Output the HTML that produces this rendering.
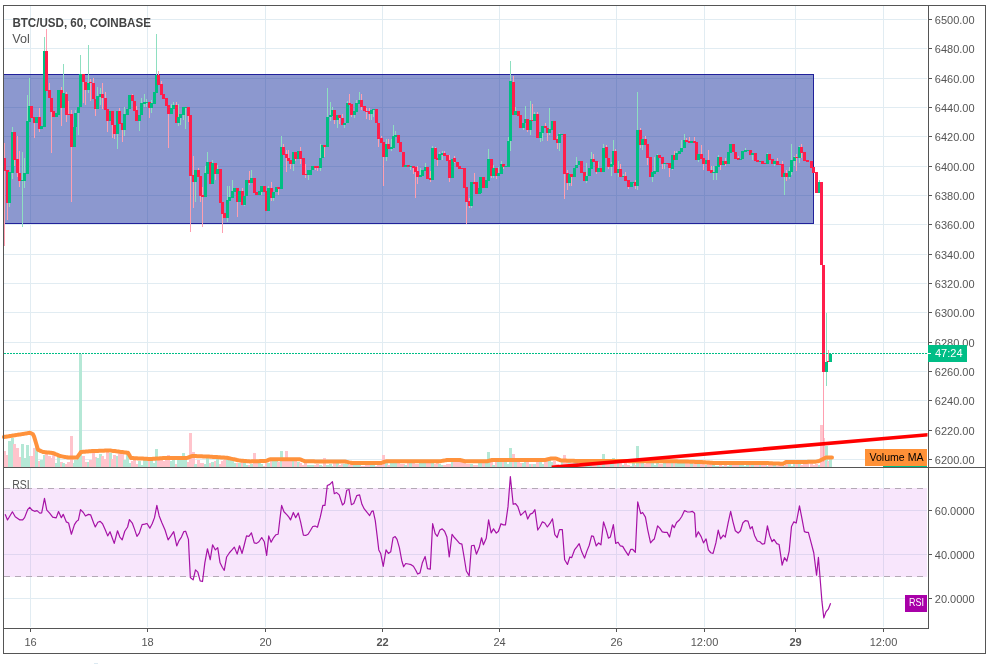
<!DOCTYPE html>
<html><head><meta charset="utf-8"><title>BTC/USD chart</title>
<style>html,body{margin:0;padding:0;background:#fff}body{width:991px;height:664px;overflow:hidden}</style></head>
<body>
<svg width="991" height="664" viewBox="0 0 991 664" shape-rendering="crispEdges" style="display:block">
<rect width="991" height="664" fill="#fff"/>
<rect x="4" y="488" width="923" height="89" fill="#f8e6fc"/>
<path d="M4 19.5H927M4 48.5H927M4 78.5H927M4 107.5H927M4 136.5H927M4 166.5H927M4 195.5H927M4 224.5H927M4 254.5H927M4 283.5H927M4 312.5H927M4 342.5H927M4 371.5H927M4 400.5H927M4 430.5H927M4 459.5H927M4 510.5H927M4 554.5H927M4 598.5H927M30.5 6V627M147.5 6V627M265.5 6V627M382.5 6V627M499.5 6V627M616.5 6V627M704.5 6V627M795.5 6V627M883.5 6V627" stroke="#e1ecf2" stroke-width="1" fill="none"/>
<path d="M4 510.5H927M4 554.5H927M30.5 489V576M147.5 489V576M265.5 489V576M382.5 489V576M499.5 489V576M616.5 489V576M704.5 489V576M795.5 489V576M883.5 489V576" stroke="#e0d6f0" stroke-width="1" fill="none"/>
<path d="M4 488.5H927M4 576.5H927" stroke="#b4a9b6" stroke-width="1" stroke-dasharray="6 5" fill="none"/>
<rect x="4" y="74" width="810" height="150" fill="rgba(10,36,152,0.47)"/>
<path d="M4 74.5H813.5V223.5H4" stroke="#21219a" stroke-width="1" fill="none"/>
<rect x="3" y="450.7" width="3" height="16.3" fill="#ffc4cc"/>
<rect x="6" y="455.2" width="3" height="11.8" fill="#ffc4cc"/>
<rect x="8" y="441.2" width="3" height="25.8" fill="#b5e8d6"/>
<rect x="11" y="438.0" width="3" height="29.0" fill="#b5e8d6"/>
<rect x="13" y="443.8" width="3" height="23.2" fill="#ffc4cc"/>
<rect x="16" y="448.4" width="3" height="18.6" fill="#ffc4cc"/>
<rect x="18" y="457.2" width="3" height="9.8" fill="#ffc4cc"/>
<rect x="21" y="443.7" width="3" height="23.3" fill="#b5e8d6"/>
<rect x="23" y="457.5" width="3" height="9.5" fill="#b5e8d6"/>
<rect x="26" y="445.4" width="3" height="21.6" fill="#b5e8d6"/>
<rect x="28" y="456.3" width="3" height="10.7" fill="#b5e8d6"/>
<rect x="30" y="455.9" width="3" height="11.1" fill="#ffc4cc"/>
<rect x="33" y="447.9" width="3" height="19.1" fill="#ffc4cc"/>
<rect x="35" y="445.2" width="3" height="21.8" fill="#b5e8d6"/>
<rect x="38" y="461.0" width="3" height="6.0" fill="#ffc4cc"/>
<rect x="40" y="460.0" width="3" height="7.0" fill="#b5e8d6"/>
<rect x="43" y="454.9" width="3" height="12.1" fill="#b5e8d6"/>
<rect x="45" y="450.9" width="3" height="16.1" fill="#ffc4cc"/>
<rect x="48" y="456.0" width="3" height="11.0" fill="#ffc4cc"/>
<rect x="50" y="458.4" width="3" height="8.6" fill="#ffc4cc"/>
<rect x="52" y="451.5" width="3" height="15.5" fill="#ffc4cc"/>
<rect x="55" y="463.4" width="3" height="3.6" fill="#b5e8d6"/>
<rect x="57" y="455.1" width="3" height="11.9" fill="#b5e8d6"/>
<rect x="60" y="461.5" width="3" height="5.5" fill="#ffc4cc"/>
<rect x="62" y="463.1" width="3" height="3.9" fill="#b5e8d6"/>
<rect x="65" y="463.5" width="3" height="3.5" fill="#ffc4cc"/>
<rect x="67" y="462.0" width="3" height="5.0" fill="#ffc4cc"/>
<rect x="70" y="436.0" width="3" height="31.0" fill="#ffc4cc"/>
<rect x="73" y="463.1" width="3" height="3.9" fill="#b5e8d6"/>
<rect x="74" y="459.7" width="3" height="7.3" fill="#b5e8d6"/>
<rect x="77" y="457.7" width="3" height="9.3" fill="#b5e8d6"/>
<rect x="79" y="354.0" width="3" height="113.0" fill="#b5e8d6"/>
<rect x="82" y="455.7" width="3" height="11.3" fill="#ffc4cc"/>
<rect x="84" y="462.3" width="3" height="4.7" fill="#ffc4cc"/>
<rect x="87" y="462.3" width="3" height="4.7" fill="#b5e8d6"/>
<rect x="89" y="460.1" width="3" height="6.9" fill="#ffc4cc"/>
<rect x="92" y="453.2" width="3" height="13.8" fill="#ffc4cc"/>
<rect x="94" y="456.8" width="3" height="10.2" fill="#ffc4cc"/>
<rect x="96" y="458.4" width="3" height="8.6" fill="#b5e8d6"/>
<rect x="99" y="454.4" width="3" height="12.6" fill="#b5e8d6"/>
<rect x="101" y="456.3" width="3" height="10.7" fill="#ffc4cc"/>
<rect x="104" y="458.5" width="3" height="8.5" fill="#ffc4cc"/>
<rect x="106" y="451.1" width="3" height="15.9" fill="#ffc4cc"/>
<rect x="109" y="452.5" width="3" height="14.5" fill="#b5e8d6"/>
<rect x="111" y="459.4" width="3" height="7.6" fill="#ffc4cc"/>
<rect x="113" y="454.8" width="3" height="12.2" fill="#ffc4cc"/>
<rect x="116" y="455.8" width="3" height="11.2" fill="#b5e8d6"/>
<rect x="118" y="451.2" width="3" height="15.8" fill="#ffc4cc"/>
<rect x="121" y="453.4" width="3" height="13.6" fill="#ffc4cc"/>
<rect x="123" y="459.6" width="3" height="7.4" fill="#b5e8d6"/>
<rect x="126" y="450.8" width="3" height="16.2" fill="#b5e8d6"/>
<rect x="128" y="463.0" width="3" height="4.0" fill="#b5e8d6"/>
<rect x="131" y="461.4" width="3" height="5.6" fill="#ffc4cc"/>
<rect x="133" y="458.8" width="3" height="8.2" fill="#ffc4cc"/>
<rect x="135" y="463.6" width="3" height="3.4" fill="#ffc4cc"/>
<rect x="138" y="461.1" width="3" height="5.9" fill="#b5e8d6"/>
<rect x="140" y="464.6" width="3" height="2.4" fill="#b5e8d6"/>
<rect x="143" y="459.9" width="3" height="7.1" fill="#b5e8d6"/>
<rect x="145" y="459.3" width="3" height="7.7" fill="#b5e8d6"/>
<rect x="148" y="460.8" width="3" height="6.2" fill="#ffc4cc"/>
<rect x="150" y="458.6" width="3" height="8.4" fill="#b5e8d6"/>
<rect x="153" y="462.6" width="3" height="4.4" fill="#b5e8d6"/>
<rect x="155" y="449.0" width="3" height="18.0" fill="#b5e8d6"/>
<rect x="157" y="460.3" width="3" height="6.7" fill="#ffc4cc"/>
<rect x="160" y="460.2" width="3" height="6.8" fill="#ffc4cc"/>
<rect x="162" y="461.1" width="3" height="5.9" fill="#ffc4cc"/>
<rect x="165" y="457.9" width="3" height="9.1" fill="#ffc4cc"/>
<rect x="167" y="455.0" width="3" height="12.0" fill="#ffc4cc"/>
<rect x="170" y="460.9" width="3" height="6.1" fill="#b5e8d6"/>
<rect x="172" y="459.4" width="3" height="7.6" fill="#b5e8d6"/>
<rect x="175" y="464.3" width="3" height="2.7" fill="#ffc4cc"/>
<rect x="177" y="459.1" width="3" height="7.9" fill="#b5e8d6"/>
<rect x="179" y="459.5" width="3" height="7.5" fill="#b5e8d6"/>
<rect x="182" y="453.0" width="3" height="14.0" fill="#b5e8d6"/>
<rect x="184" y="458.1" width="3" height="8.9" fill="#b5e8d6"/>
<rect x="187" y="462.2" width="3" height="4.8" fill="#ffc4cc"/>
<rect x="189" y="433.0" width="3" height="34.0" fill="#ffc4cc"/>
<rect x="192" y="451.7" width="3" height="15.3" fill="#ffc4cc"/>
<rect x="194" y="464.1" width="3" height="2.9" fill="#b5e8d6"/>
<rect x="197" y="459.8" width="3" height="7.2" fill="#ffc4cc"/>
<rect x="199" y="462.7" width="3" height="4.3" fill="#ffc4cc"/>
<rect x="201" y="463.2" width="3" height="3.8" fill="#ffc4cc"/>
<rect x="204" y="463.8" width="3" height="3.2" fill="#b5e8d6"/>
<rect x="206" y="457.2" width="3" height="9.8" fill="#b5e8d6"/>
<rect x="209" y="463.2" width="3" height="3.8" fill="#ffc4cc"/>
<rect x="211" y="462.2" width="3" height="4.8" fill="#b5e8d6"/>
<rect x="214" y="461.0" width="3" height="6.0" fill="#ffc4cc"/>
<rect x="216" y="456.9" width="3" height="10.1" fill="#b5e8d6"/>
<rect x="219" y="463.9" width="3" height="3.1" fill="#ffc4cc"/>
<rect x="221" y="460.8" width="3" height="6.2" fill="#ffc4cc"/>
<rect x="223" y="460.1" width="3" height="6.9" fill="#ffc4cc"/>
<rect x="226" y="457.5" width="3" height="9.5" fill="#b5e8d6"/>
<rect x="228" y="458.5" width="3" height="8.5" fill="#b5e8d6"/>
<rect x="231" y="458.7" width="3" height="8.3" fill="#b5e8d6"/>
<rect x="233" y="463.2" width="3" height="3.8" fill="#b5e8d6"/>
<rect x="236" y="462.6" width="3" height="4.4" fill="#ffc4cc"/>
<rect x="238" y="463.3" width="3" height="3.7" fill="#b5e8d6"/>
<rect x="241" y="460.5" width="3" height="6.5" fill="#ffc4cc"/>
<rect x="243" y="460.3" width="3" height="6.7" fill="#b5e8d6"/>
<rect x="245" y="464.7" width="3" height="2.3" fill="#b5e8d6"/>
<rect x="248" y="464.7" width="3" height="2.3" fill="#ffc4cc"/>
<rect x="250" y="464.4" width="3" height="2.6" fill="#b5e8d6"/>
<rect x="253" y="453.0" width="3" height="14.0" fill="#ffc4cc"/>
<rect x="255" y="463.0" width="3" height="4.0" fill="#ffc4cc"/>
<rect x="258" y="462.5" width="3" height="4.5" fill="#b5e8d6"/>
<rect x="260" y="464.1" width="3" height="2.9" fill="#b5e8d6"/>
<rect x="263" y="465.5" width="3" height="1.5" fill="#ffc4cc"/>
<rect x="265" y="463.1" width="3" height="3.9" fill="#ffc4cc"/>
<rect x="267" y="462.8" width="3" height="4.2" fill="#b5e8d6"/>
<rect x="270" y="461.2" width="3" height="5.8" fill="#ffc4cc"/>
<rect x="272" y="458.5" width="3" height="8.5" fill="#b5e8d6"/>
<rect x="275" y="460.3" width="3" height="6.7" fill="#b5e8d6"/>
<rect x="277" y="461.5" width="3" height="5.5" fill="#ffc4cc"/>
<rect x="280" y="451.0" width="3" height="16.0" fill="#b5e8d6"/>
<rect x="282" y="460.4" width="3" height="6.6" fill="#ffc4cc"/>
<rect x="285" y="451.0" width="3" height="16.0" fill="#ffc4cc"/>
<rect x="287" y="458.8" width="3" height="8.2" fill="#ffc4cc"/>
<rect x="289" y="459.7" width="3" height="7.3" fill="#ffc4cc"/>
<rect x="292" y="459.0" width="3" height="8.0" fill="#b5e8d6"/>
<rect x="294" y="459.5" width="3" height="7.5" fill="#ffc4cc"/>
<rect x="297" y="462.4" width="3" height="4.6" fill="#b5e8d6"/>
<rect x="299" y="462.5" width="3" height="4.5" fill="#ffc4cc"/>
<rect x="302" y="464.8" width="3" height="2.2" fill="#ffc4cc"/>
<rect x="304" y="462.3" width="3" height="4.7" fill="#ffc4cc"/>
<rect x="307" y="465.3" width="3" height="1.7" fill="#b5e8d6"/>
<rect x="309" y="465.2" width="3" height="1.8" fill="#b5e8d6"/>
<rect x="311" y="464.5" width="3" height="2.5" fill="#b5e8d6"/>
<rect x="314" y="464.8" width="3" height="2.2" fill="#ffc4cc"/>
<rect x="316" y="463.9" width="3" height="3.1" fill="#ffc4cc"/>
<rect x="319" y="465.3" width="3" height="1.7" fill="#b5e8d6"/>
<rect x="321" y="465.6" width="3" height="1.4" fill="#b5e8d6"/>
<rect x="323" y="457.5" width="3" height="9.5" fill="#ffc4cc"/>
<rect x="326" y="465.1" width="3" height="1.9" fill="#b5e8d6"/>
<rect x="329" y="463.8" width="3" height="3.2" fill="#b5e8d6"/>
<rect x="331" y="465.5" width="3" height="1.5" fill="#b5e8d6"/>
<rect x="333" y="461.2" width="3" height="5.8" fill="#ffc4cc"/>
<rect x="336" y="462.6" width="3" height="4.4" fill="#b5e8d6"/>
<rect x="338" y="464.9" width="3" height="2.1" fill="#ffc4cc"/>
<rect x="341" y="464.4" width="3" height="2.6" fill="#ffc4cc"/>
<rect x="343" y="463.9" width="3" height="3.1" fill="#b5e8d6"/>
<rect x="346" y="464.1" width="3" height="2.9" fill="#b5e8d6"/>
<rect x="348" y="465.4" width="3" height="1.6" fill="#ffc4cc"/>
<rect x="350" y="462.9" width="3" height="4.1" fill="#ffc4cc"/>
<rect x="353" y="462.4" width="3" height="4.6" fill="#b5e8d6"/>
<rect x="355" y="464.3" width="3" height="2.7" fill="#b5e8d6"/>
<rect x="358" y="464.3" width="3" height="2.7" fill="#b5e8d6"/>
<rect x="360" y="465.7" width="3" height="1.3" fill="#ffc4cc"/>
<rect x="363" y="465.6" width="3" height="1.4" fill="#ffc4cc"/>
<rect x="365" y="464.8" width="3" height="2.2" fill="#ffc4cc"/>
<rect x="368" y="465.0" width="3" height="2.0" fill="#ffc4cc"/>
<rect x="370" y="463.0" width="3" height="4.0" fill="#b5e8d6"/>
<rect x="372" y="465.4" width="3" height="1.6" fill="#b5e8d6"/>
<rect x="375" y="465.9" width="3" height="1.1" fill="#ffc4cc"/>
<rect x="377" y="462.6" width="3" height="4.4" fill="#ffc4cc"/>
<rect x="380" y="464.0" width="3" height="3.0" fill="#ffc4cc"/>
<rect x="382" y="455.0" width="3" height="12.0" fill="#ffc4cc"/>
<rect x="385" y="462.8" width="3" height="4.2" fill="#b5e8d6"/>
<rect x="387" y="465.4" width="3" height="1.6" fill="#ffc4cc"/>
<rect x="390" y="462.9" width="3" height="4.1" fill="#b5e8d6"/>
<rect x="392" y="460.6" width="3" height="6.4" fill="#b5e8d6"/>
<rect x="394" y="461.1" width="3" height="5.9" fill="#b5e8d6"/>
<rect x="397" y="462.0" width="3" height="5.0" fill="#ffc4cc"/>
<rect x="399" y="464.2" width="3" height="2.8" fill="#ffc4cc"/>
<rect x="402" y="463.7" width="3" height="3.3" fill="#ffc4cc"/>
<rect x="404" y="464.7" width="3" height="2.3" fill="#b5e8d6"/>
<rect x="407" y="461.6" width="3" height="5.4" fill="#ffc4cc"/>
<rect x="409" y="462.8" width="3" height="4.2" fill="#b5e8d6"/>
<rect x="412" y="461.6" width="3" height="5.4" fill="#ffc4cc"/>
<rect x="414" y="463.9" width="3" height="3.1" fill="#ffc4cc"/>
<rect x="416" y="464.4" width="3" height="2.6" fill="#ffc4cc"/>
<rect x="419" y="461.4" width="3" height="5.6" fill="#b5e8d6"/>
<rect x="421" y="460.5" width="3" height="6.5" fill="#b5e8d6"/>
<rect x="424" y="461.2" width="3" height="5.8" fill="#b5e8d6"/>
<rect x="426" y="461.4" width="3" height="5.6" fill="#ffc4cc"/>
<rect x="429" y="461.4" width="3" height="5.6" fill="#ffc4cc"/>
<rect x="431" y="461.8" width="3" height="5.2" fill="#b5e8d6"/>
<rect x="434" y="464.4" width="3" height="2.6" fill="#ffc4cc"/>
<rect x="436" y="462.9" width="3" height="4.1" fill="#ffc4cc"/>
<rect x="438" y="463.8" width="3" height="3.2" fill="#b5e8d6"/>
<rect x="441" y="465.3" width="3" height="1.7" fill="#b5e8d6"/>
<rect x="443" y="465.2" width="3" height="1.8" fill="#ffc4cc"/>
<rect x="446" y="463.5" width="3" height="3.5" fill="#ffc4cc"/>
<rect x="448" y="463.6" width="3" height="3.4" fill="#ffc4cc"/>
<rect x="451" y="460.9" width="3" height="6.1" fill="#b5e8d6"/>
<rect x="453" y="459.2" width="3" height="7.8" fill="#ffc4cc"/>
<rect x="456" y="462.4" width="3" height="4.6" fill="#ffc4cc"/>
<rect x="458" y="459.3" width="3" height="7.7" fill="#ffc4cc"/>
<rect x="461" y="459.6" width="3" height="7.4" fill="#ffc4cc"/>
<rect x="463" y="460.5" width="3" height="6.5" fill="#ffc4cc"/>
<rect x="465" y="463.7" width="3" height="3.3" fill="#ffc4cc"/>
<rect x="468" y="464.4" width="3" height="2.6" fill="#ffc4cc"/>
<rect x="470" y="464.4" width="3" height="2.6" fill="#b5e8d6"/>
<rect x="473" y="464.6" width="3" height="2.4" fill="#ffc4cc"/>
<rect x="475" y="464.5" width="3" height="2.5" fill="#ffc4cc"/>
<rect x="478" y="462.4" width="3" height="4.6" fill="#b5e8d6"/>
<rect x="479" y="461.0" width="3" height="6.0" fill="#b5e8d6"/>
<rect x="482" y="461.3" width="3" height="5.7" fill="#ffc4cc"/>
<rect x="485" y="463.1" width="3" height="3.9" fill="#b5e8d6"/>
<rect x="487" y="452.0" width="3" height="15.0" fill="#b5e8d6"/>
<rect x="490" y="460.4" width="3" height="6.6" fill="#ffc4cc"/>
<rect x="492" y="464.7" width="3" height="2.3" fill="#b5e8d6"/>
<rect x="495" y="461.1" width="3" height="5.9" fill="#ffc4cc"/>
<rect x="497" y="459.5" width="3" height="7.5" fill="#b5e8d6"/>
<rect x="500" y="460.3" width="3" height="6.7" fill="#b5e8d6"/>
<rect x="502" y="460.5" width="3" height="6.5" fill="#ffc4cc"/>
<rect x="504" y="462.2" width="3" height="4.8" fill="#b5e8d6"/>
<rect x="507" y="464.1" width="3" height="2.9" fill="#b5e8d6"/>
<rect x="509" y="448.0" width="3" height="19.0" fill="#b5e8d6"/>
<rect x="512" y="454.0" width="3" height="13.0" fill="#ffc4cc"/>
<rect x="514" y="460.2" width="3" height="6.8" fill="#b5e8d6"/>
<rect x="517" y="459.1" width="3" height="7.9" fill="#ffc4cc"/>
<rect x="519" y="462.8" width="3" height="4.2" fill="#ffc4cc"/>
<rect x="522" y="462.7" width="3" height="4.3" fill="#b5e8d6"/>
<rect x="524" y="459.3" width="3" height="7.7" fill="#b5e8d6"/>
<rect x="526" y="460.7" width="3" height="6.3" fill="#ffc4cc"/>
<rect x="529" y="464.2" width="3" height="2.8" fill="#b5e8d6"/>
<rect x="531" y="464.4" width="3" height="2.6" fill="#ffc4cc"/>
<rect x="533" y="464.3" width="3" height="2.7" fill="#b5e8d6"/>
<rect x="536" y="459.5" width="3" height="7.5" fill="#ffc4cc"/>
<rect x="539" y="460.2" width="3" height="6.8" fill="#b5e8d6"/>
<rect x="541" y="464.3" width="3" height="2.7" fill="#b5e8d6"/>
<rect x="544" y="460.0" width="3" height="7.0" fill="#ffc4cc"/>
<rect x="546" y="458.4" width="3" height="8.6" fill="#ffc4cc"/>
<rect x="548" y="460.1" width="3" height="6.9" fill="#b5e8d6"/>
<rect x="551" y="462.2" width="3" height="4.8" fill="#b5e8d6"/>
<rect x="553" y="460.7" width="3" height="6.3" fill="#ffc4cc"/>
<rect x="556" y="464.1" width="3" height="2.9" fill="#ffc4cc"/>
<rect x="558" y="465.1" width="3" height="1.9" fill="#b5e8d6"/>
<rect x="561" y="459.7" width="3" height="7.3" fill="#b5e8d6"/>
<rect x="563" y="455.0" width="3" height="12.0" fill="#ffc4cc"/>
<rect x="566" y="462.4" width="3" height="4.6" fill="#ffc4cc"/>
<rect x="568" y="460.2" width="3" height="6.8" fill="#b5e8d6"/>
<rect x="570" y="463.0" width="3" height="4.0" fill="#ffc4cc"/>
<rect x="573" y="460.6" width="3" height="6.4" fill="#b5e8d6"/>
<rect x="575" y="460.9" width="3" height="6.1" fill="#b5e8d6"/>
<rect x="578" y="464.3" width="3" height="2.7" fill="#b5e8d6"/>
<rect x="580" y="464.1" width="3" height="2.9" fill="#ffc4cc"/>
<rect x="583" y="463.9" width="3" height="3.1" fill="#ffc4cc"/>
<rect x="585" y="464.2" width="3" height="2.8" fill="#b5e8d6"/>
<rect x="588" y="462.4" width="3" height="4.6" fill="#b5e8d6"/>
<rect x="590" y="464.1" width="3" height="2.9" fill="#b5e8d6"/>
<rect x="592" y="463.3" width="3" height="3.7" fill="#ffc4cc"/>
<rect x="595" y="464.8" width="3" height="2.2" fill="#ffc4cc"/>
<rect x="597" y="460.6" width="3" height="6.4" fill="#b5e8d6"/>
<rect x="600" y="463.6" width="3" height="3.4" fill="#ffc4cc"/>
<rect x="602" y="453.7" width="3" height="13.3" fill="#b5e8d6"/>
<rect x="605" y="462.4" width="3" height="4.6" fill="#ffc4cc"/>
<rect x="607" y="460.7" width="3" height="6.3" fill="#ffc4cc"/>
<rect x="610" y="463.3" width="3" height="3.7" fill="#b5e8d6"/>
<rect x="612" y="457.5" width="3" height="9.5" fill="#b5e8d6"/>
<rect x="614" y="462.9" width="3" height="4.1" fill="#ffc4cc"/>
<rect x="617" y="462.7" width="3" height="4.3" fill="#b5e8d6"/>
<rect x="619" y="462.8" width="3" height="4.2" fill="#ffc4cc"/>
<rect x="622" y="465.4" width="3" height="1.6" fill="#b5e8d6"/>
<rect x="624" y="463.2" width="3" height="3.8" fill="#ffc4cc"/>
<rect x="627" y="464.6" width="3" height="2.4" fill="#ffc4cc"/>
<rect x="630" y="465.5" width="3" height="1.5" fill="#b5e8d6"/>
<rect x="632" y="461.3" width="3" height="5.7" fill="#b5e8d6"/>
<rect x="634" y="464.6" width="3" height="2.4" fill="#ffc4cc"/>
<rect x="636" y="446.0" width="3" height="21.0" fill="#b5e8d6"/>
<rect x="639" y="461.8" width="3" height="5.2" fill="#ffc4cc"/>
<rect x="641" y="462.6" width="3" height="4.4" fill="#b5e8d6"/>
<rect x="644" y="463.9" width="3" height="3.1" fill="#ffc4cc"/>
<rect x="646" y="462.9" width="3" height="4.1" fill="#ffc4cc"/>
<rect x="649" y="462.7" width="3" height="4.3" fill="#ffc4cc"/>
<rect x="651" y="461.5" width="3" height="5.5" fill="#b5e8d6"/>
<rect x="653" y="465.0" width="3" height="2.0" fill="#b5e8d6"/>
<rect x="656" y="462.7" width="3" height="4.3" fill="#b5e8d6"/>
<rect x="658" y="464.3" width="3" height="2.7" fill="#ffc4cc"/>
<rect x="661" y="464.1" width="3" height="2.9" fill="#ffc4cc"/>
<rect x="663" y="461.6" width="3" height="5.4" fill="#b5e8d6"/>
<rect x="666" y="463.0" width="3" height="4.0" fill="#ffc4cc"/>
<rect x="668" y="462.7" width="3" height="4.3" fill="#ffc4cc"/>
<rect x="671" y="461.7" width="3" height="5.3" fill="#b5e8d6"/>
<rect x="673" y="460.9" width="3" height="6.1" fill="#ffc4cc"/>
<rect x="675" y="463.3" width="3" height="3.7" fill="#b5e8d6"/>
<rect x="678" y="462.5" width="3" height="4.5" fill="#b5e8d6"/>
<rect x="680" y="463.1" width="3" height="3.9" fill="#b5e8d6"/>
<rect x="683" y="463.1" width="3" height="3.9" fill="#b5e8d6"/>
<rect x="685" y="462.3" width="3" height="4.7" fill="#ffc4cc"/>
<rect x="688" y="463.5" width="3" height="3.5" fill="#ffc4cc"/>
<rect x="690" y="463.2" width="3" height="3.8" fill="#b5e8d6"/>
<rect x="693" y="463.5" width="3" height="3.5" fill="#ffc4cc"/>
<rect x="695" y="461.4" width="3" height="5.6" fill="#ffc4cc"/>
<rect x="697" y="462.6" width="3" height="4.4" fill="#b5e8d6"/>
<rect x="700" y="461.9" width="3" height="5.1" fill="#ffc4cc"/>
<rect x="702" y="461.8" width="3" height="5.2" fill="#ffc4cc"/>
<rect x="705" y="464.8" width="3" height="2.2" fill="#b5e8d6"/>
<rect x="707" y="463.7" width="3" height="3.3" fill="#ffc4cc"/>
<rect x="710" y="462.3" width="3" height="4.7" fill="#ffc4cc"/>
<rect x="712" y="462.9" width="3" height="4.1" fill="#b5e8d6"/>
<rect x="715" y="465.5" width="3" height="1.5" fill="#b5e8d6"/>
<rect x="717" y="465.6" width="3" height="1.4" fill="#b5e8d6"/>
<rect x="719" y="464.4" width="3" height="2.6" fill="#ffc4cc"/>
<rect x="722" y="465.7" width="3" height="1.3" fill="#b5e8d6"/>
<rect x="724" y="465.1" width="3" height="1.9" fill="#ffc4cc"/>
<rect x="727" y="465.7" width="3" height="1.3" fill="#b5e8d6"/>
<rect x="729" y="463.6" width="3" height="3.4" fill="#b5e8d6"/>
<rect x="732" y="463.2" width="3" height="3.8" fill="#ffc4cc"/>
<rect x="734" y="462.8" width="3" height="4.2" fill="#ffc4cc"/>
<rect x="737" y="465.4" width="3" height="1.6" fill="#ffc4cc"/>
<rect x="739" y="463.4" width="3" height="3.6" fill="#b5e8d6"/>
<rect x="741" y="463.6" width="3" height="3.4" fill="#b5e8d6"/>
<rect x="744" y="465.5" width="3" height="1.5" fill="#b5e8d6"/>
<rect x="746" y="462.8" width="3" height="4.2" fill="#b5e8d6"/>
<rect x="749" y="462.5" width="3" height="4.5" fill="#ffc4cc"/>
<rect x="751" y="465.2" width="3" height="1.8" fill="#b5e8d6"/>
<rect x="754" y="462.6" width="3" height="4.4" fill="#ffc4cc"/>
<rect x="756" y="464.6" width="3" height="2.4" fill="#ffc4cc"/>
<rect x="759" y="464.2" width="3" height="2.8" fill="#b5e8d6"/>
<rect x="761" y="462.4" width="3" height="4.6" fill="#ffc4cc"/>
<rect x="764" y="463.0" width="3" height="4.0" fill="#ffc4cc"/>
<rect x="766" y="465.5" width="3" height="1.5" fill="#b5e8d6"/>
<rect x="768" y="464.6" width="3" height="2.4" fill="#ffc4cc"/>
<rect x="771" y="464.4" width="3" height="2.6" fill="#ffc4cc"/>
<rect x="773" y="465.0" width="3" height="2.0" fill="#b5e8d6"/>
<rect x="776" y="465.5" width="3" height="1.5" fill="#ffc4cc"/>
<rect x="778" y="465.2" width="3" height="1.8" fill="#ffc4cc"/>
<rect x="781" y="464.1" width="3" height="2.9" fill="#ffc4cc"/>
<rect x="783" y="465.9" width="3" height="1.1" fill="#b5e8d6"/>
<rect x="785" y="463.3" width="3" height="3.7" fill="#ffc4cc"/>
<rect x="788" y="463.8" width="3" height="3.2" fill="#b5e8d6"/>
<rect x="790" y="465.7" width="3" height="1.3" fill="#b5e8d6"/>
<rect x="793" y="464.2" width="3" height="2.8" fill="#b5e8d6"/>
<rect x="795" y="462.9" width="3" height="4.1" fill="#ffc4cc"/>
<rect x="798" y="463.4" width="3" height="3.6" fill="#b5e8d6"/>
<rect x="800" y="465.4" width="3" height="1.6" fill="#ffc4cc"/>
<rect x="803" y="461.2" width="3" height="5.8" fill="#ffc4cc"/>
<rect x="806" y="462.1" width="3" height="4.9" fill="#ffc4cc"/>
<rect x="810" y="461.2" width="3" height="5.8" fill="#ffc4cc"/>
<rect x="812" y="465.2" width="3" height="1.8" fill="#ffc4cc"/>
<rect x="815" y="464.3" width="3" height="2.7" fill="#ffc4cc"/>
<rect x="818" y="465.3" width="3" height="1.7" fill="#b5e8d6"/>
<rect x="820" y="425.0" width="3" height="42.0" fill="#ffc4cc"/>
<rect x="822" y="438.0" width="3" height="29.0" fill="#ffc4cc"/>
<rect x="825" y="446.0" width="3" height="21.0" fill="#b5e8d6"/>
<rect x="827" y="461.0" width="3" height="6.0" fill="#ffc4cc"/>
<rect x="829" y="456.8" width="3" height="10.2" fill="#b5e8d6"/>
<rect x="4" y="142.9" width="1" height="102.8" fill="#ff9fb0"/>
<rect x="3" y="158.0" width="3" height="12.8" fill="#ff1e4b"/>
<rect x="7" y="170.3" width="1" height="49.6" fill="#ff9fb0"/>
<rect x="6" y="170.3" width="3" height="32.6" fill="#ff1e4b"/>
<rect x="9" y="171.6" width="1" height="35.3" fill="#8edfc0"/>
<rect x="8" y="171.6" width="3" height="31.3" fill="#00be82"/>
<rect x="12" y="127.4" width="1" height="51.7" fill="#8edfc0"/>
<rect x="11" y="132.4" width="3" height="40.1" fill="#00be82"/>
<rect x="14" y="132.4" width="1" height="33.4" fill="#ff9fb0"/>
<rect x="13" y="132.4" width="3" height="27.6" fill="#ff1e4b"/>
<rect x="17" y="135.7" width="1" height="41.7" fill="#ff9fb0"/>
<rect x="16" y="159.1" width="3" height="14.2" fill="#ff1e4b"/>
<rect x="19" y="150.8" width="1" height="35.8" fill="#ff9fb0"/>
<rect x="18" y="173.0" width="3" height="7.8" fill="#ff1e4b"/>
<rect x="22" y="152.0" width="1" height="74.6" fill="#8edfc0"/>
<rect x="21" y="180.0" width="3" height="1.3" fill="#00be82"/>
<rect x="24" y="158.0" width="1" height="30.0" fill="#8edfc0"/>
<rect x="23" y="173.3" width="3" height="7.5" fill="#00be82"/>
<rect x="27" y="94.9" width="1" height="79.2" fill="#8edfc0"/>
<rect x="26" y="121.3" width="3" height="52.9" fill="#00be82"/>
<rect x="29" y="78.3" width="1" height="43.3" fill="#8edfc0"/>
<rect x="28" y="106.3" width="3" height="15.3" fill="#00be82"/>
<rect x="31" y="106.3" width="1" height="12.0" fill="#ff9fb0"/>
<rect x="30" y="106.3" width="3" height="12.0" fill="#ff1e4b"/>
<rect x="34" y="117.4" width="1" height="20.8" fill="#ff9fb0"/>
<rect x="33" y="117.4" width="3" height="5.8" fill="#ff1e4b"/>
<rect x="36" y="116.6" width="1" height="6.7" fill="#8edfc0"/>
<rect x="35" y="116.6" width="3" height="6.7" fill="#00be82"/>
<rect x="39" y="108.3" width="1" height="24.1" fill="#ff9fb0"/>
<rect x="38" y="116.9" width="3" height="12.2" fill="#ff1e4b"/>
<rect x="41" y="125.7" width="1" height="3.3" fill="#8edfc0"/>
<rect x="40" y="125.7" width="3" height="3.3" fill="#00be82"/>
<rect x="44" y="36.7" width="1" height="89.9" fill="#8edfc0"/>
<rect x="43" y="50.8" width="3" height="75.8" fill="#00be82"/>
<rect x="46" y="29.0" width="1" height="61.8" fill="#ff9fb0"/>
<rect x="45" y="50.8" width="3" height="40.0" fill="#ff1e4b"/>
<rect x="49" y="83.0" width="1" height="15.3" fill="#ff9fb0"/>
<rect x="48" y="90.0" width="3" height="8.3" fill="#ff1e4b"/>
<rect x="51" y="98.3" width="1" height="54.2" fill="#ff9fb0"/>
<rect x="50" y="98.3" width="3" height="13.3" fill="#ff1e4b"/>
<rect x="53" y="111.3" width="1" height="5.7" fill="#ff9fb0"/>
<rect x="52" y="111.3" width="3" height="5.7" fill="#ff1e4b"/>
<rect x="56" y="113.3" width="1" height="3.7" fill="#8edfc0"/>
<rect x="55" y="113.3" width="3" height="3.7" fill="#00be82"/>
<rect x="58" y="90.0" width="1" height="25.0" fill="#8edfc0"/>
<rect x="57" y="90.0" width="3" height="25.0" fill="#00be82"/>
<rect x="61" y="87.1" width="1" height="38.6" fill="#ff9fb0"/>
<rect x="60" y="90.0" width="3" height="18.0" fill="#ff1e4b"/>
<rect x="63" y="64.1" width="1" height="43.8" fill="#8edfc0"/>
<rect x="62" y="93.3" width="3" height="14.7" fill="#00be82"/>
<rect x="66" y="91.9" width="1" height="30.5" fill="#ff9fb0"/>
<rect x="65" y="93.6" width="3" height="21.0" fill="#ff1e4b"/>
<rect x="68" y="100.8" width="1" height="13.5" fill="#ff9fb0"/>
<rect x="67" y="113.8" width="3" height="1.0" fill="#ff1e4b"/>
<rect x="71" y="109.9" width="1" height="92.0" fill="#ff9fb0"/>
<rect x="70" y="114.1" width="3" height="32.6" fill="#ff1e4b"/>
<rect x="74" y="126.6" width="1" height="20.1" fill="#8edfc0"/>
<rect x="73" y="126.6" width="3" height="20.1" fill="#00be82"/>
<rect x="75" y="109.9" width="1" height="16.7" fill="#8edfc0"/>
<rect x="74" y="112.9" width="3" height="13.7" fill="#00be82"/>
<rect x="78" y="107.4" width="1" height="27.5" fill="#8edfc0"/>
<rect x="77" y="107.4" width="3" height="5.8" fill="#00be82"/>
<rect x="80" y="55.0" width="1" height="52.4" fill="#8edfc0"/>
<rect x="79" y="74.1" width="3" height="33.3" fill="#00be82"/>
<rect x="83" y="74.1" width="1" height="29.1" fill="#ff9fb0"/>
<rect x="82" y="74.1" width="3" height="7.5" fill="#ff1e4b"/>
<rect x="85" y="81.6" width="1" height="23.3" fill="#ff9fb0"/>
<rect x="84" y="81.6" width="3" height="8.0" fill="#ff1e4b"/>
<rect x="88" y="45.0" width="1" height="47.5" fill="#8edfc0"/>
<rect x="87" y="82.5" width="3" height="7.2" fill="#00be82"/>
<rect x="90" y="79.1" width="1" height="21.6" fill="#ff9fb0"/>
<rect x="89" y="81.6" width="3" height="1.7" fill="#ff1e4b"/>
<rect x="93" y="78.0" width="1" height="21.1" fill="#ff9fb0"/>
<rect x="92" y="82.5" width="3" height="16.7" fill="#ff1e4b"/>
<rect x="95" y="99.1" width="1" height="16.7" fill="#ff9fb0"/>
<rect x="94" y="99.1" width="3" height="9.5" fill="#ff1e4b"/>
<rect x="97" y="87.1" width="1" height="21.5" fill="#8edfc0"/>
<rect x="96" y="95.8" width="3" height="12.8" fill="#00be82"/>
<rect x="100" y="88.0" width="1" height="17.0" fill="#8edfc0"/>
<rect x="99" y="94.1" width="3" height="2.5" fill="#00be82"/>
<rect x="102" y="82.5" width="1" height="26.6" fill="#ff9fb0"/>
<rect x="101" y="94.1" width="3" height="4.2" fill="#ff1e4b"/>
<rect x="105" y="92.1" width="1" height="17.5" fill="#ff9fb0"/>
<rect x="104" y="98.3" width="3" height="11.3" fill="#ff1e4b"/>
<rect x="107" y="109.1" width="1" height="22.5" fill="#ff9fb0"/>
<rect x="106" y="109.1" width="3" height="11.7" fill="#ff1e4b"/>
<rect x="110" y="111.3" width="1" height="9.5" fill="#8edfc0"/>
<rect x="109" y="111.3" width="3" height="9.5" fill="#00be82"/>
<rect x="112" y="111.3" width="1" height="27.0" fill="#ff9fb0"/>
<rect x="111" y="111.3" width="3" height="13.7" fill="#ff1e4b"/>
<rect x="114" y="124.6" width="1" height="14.5" fill="#ff9fb0"/>
<rect x="113" y="124.6" width="3" height="9.0" fill="#ff1e4b"/>
<rect x="117" y="111.3" width="1" height="37.8" fill="#8edfc0"/>
<rect x="116" y="111.3" width="3" height="22.3" fill="#00be82"/>
<rect x="119" y="107.9" width="1" height="16.2" fill="#ff9fb0"/>
<rect x="118" y="111.3" width="3" height="12.8" fill="#ff1e4b"/>
<rect x="122" y="123.3" width="1" height="18.6" fill="#ff9fb0"/>
<rect x="121" y="123.3" width="3" height="6.7" fill="#ff1e4b"/>
<rect x="124" y="107.1" width="1" height="28.6" fill="#8edfc0"/>
<rect x="123" y="114.1" width="3" height="15.8" fill="#00be82"/>
<rect x="127" y="108.6" width="1" height="6.0" fill="#8edfc0"/>
<rect x="126" y="108.6" width="3" height="6.0" fill="#00be82"/>
<rect x="129" y="94.9" width="1" height="13.7" fill="#8edfc0"/>
<rect x="128" y="94.9" width="3" height="13.7" fill="#00be82"/>
<rect x="132" y="93.8" width="1" height="7.5" fill="#ff9fb0"/>
<rect x="131" y="94.9" width="3" height="6.3" fill="#ff1e4b"/>
<rect x="134" y="101.3" width="1" height="9.5" fill="#ff9fb0"/>
<rect x="133" y="101.3" width="3" height="9.5" fill="#ff1e4b"/>
<rect x="136" y="105.8" width="1" height="15.0" fill="#ff9fb0"/>
<rect x="135" y="110.3" width="3" height="10.5" fill="#ff1e4b"/>
<rect x="139" y="114.9" width="1" height="15.8" fill="#8edfc0"/>
<rect x="138" y="114.9" width="3" height="5.8" fill="#00be82"/>
<rect x="141" y="97.9" width="1" height="17.0" fill="#8edfc0"/>
<rect x="140" y="103.3" width="3" height="11.7" fill="#00be82"/>
<rect x="144" y="94.1" width="1" height="13.3" fill="#8edfc0"/>
<rect x="143" y="102.1" width="3" height="1.5" fill="#00be82"/>
<rect x="146" y="99.1" width="1" height="7.5" fill="#8edfc0"/>
<rect x="145" y="101.9" width="3" height="1.0" fill="#00be82"/>
<rect x="149" y="102.1" width="1" height="15.8" fill="#ff9fb0"/>
<rect x="148" y="102.1" width="3" height="5.8" fill="#ff1e4b"/>
<rect x="151" y="99.9" width="1" height="13.3" fill="#8edfc0"/>
<rect x="150" y="103.3" width="3" height="4.7" fill="#00be82"/>
<rect x="154" y="92.4" width="1" height="11.2" fill="#8edfc0"/>
<rect x="153" y="92.4" width="3" height="11.2" fill="#00be82"/>
<rect x="156" y="33.7" width="1" height="59.3" fill="#8edfc0"/>
<rect x="155" y="75.3" width="3" height="17.6" fill="#00be82"/>
<rect x="158" y="71.3" width="1" height="13.3" fill="#ff9fb0"/>
<rect x="157" y="75.3" width="3" height="9.3" fill="#ff1e4b"/>
<rect x="161" y="80.8" width="1" height="14.2" fill="#ff9fb0"/>
<rect x="160" y="84.1" width="3" height="10.8" fill="#ff1e4b"/>
<rect x="163" y="94.1" width="1" height="4.5" fill="#ff9fb0"/>
<rect x="162" y="94.1" width="3" height="4.5" fill="#ff1e4b"/>
<rect x="166" y="98.3" width="1" height="7.5" fill="#ff9fb0"/>
<rect x="165" y="98.3" width="3" height="7.5" fill="#ff1e4b"/>
<rect x="168" y="105.0" width="1" height="43.0" fill="#ff9fb0"/>
<rect x="167" y="105.0" width="3" height="8.7" fill="#ff1e4b"/>
<rect x="171" y="104.1" width="1" height="9.5" fill="#8edfc0"/>
<rect x="170" y="108.3" width="3" height="5.3" fill="#00be82"/>
<rect x="173" y="102.0" width="1" height="6.7" fill="#8edfc0"/>
<rect x="172" y="104.6" width="3" height="4.0" fill="#00be82"/>
<rect x="176" y="102.0" width="1" height="21.0" fill="#ff9fb0"/>
<rect x="175" y="104.6" width="3" height="18.3" fill="#ff1e4b"/>
<rect x="178" y="104.1" width="1" height="21.6" fill="#8edfc0"/>
<rect x="177" y="117.4" width="3" height="5.5" fill="#00be82"/>
<rect x="180" y="114.1" width="1" height="10.8" fill="#8edfc0"/>
<rect x="179" y="114.1" width="3" height="3.8" fill="#00be82"/>
<rect x="183" y="107.1" width="1" height="12.8" fill="#8edfc0"/>
<rect x="182" y="107.1" width="3" height="7.8" fill="#00be82"/>
<rect x="185" y="107.1" width="1" height="21.5" fill="#8edfc0"/>
<rect x="184" y="107.1" width="3" height="1.2" fill="#00be82"/>
<rect x="188" y="107.1" width="1" height="14.8" fill="#ff9fb0"/>
<rect x="187" y="107.1" width="3" height="8.7" fill="#ff1e4b"/>
<rect x="190" y="114.9" width="1" height="116.6" fill="#ff9fb0"/>
<rect x="189" y="114.9" width="3" height="60.8" fill="#ff1e4b"/>
<rect x="193" y="156.3" width="1" height="51.6" fill="#ff9fb0"/>
<rect x="192" y="175.3" width="3" height="6.7" fill="#ff1e4b"/>
<rect x="195" y="170.3" width="1" height="31.6" fill="#8edfc0"/>
<rect x="194" y="170.3" width="3" height="11.7" fill="#00be82"/>
<rect x="198" y="168.0" width="1" height="9.0" fill="#ff9fb0"/>
<rect x="197" y="170.0" width="3" height="7.0" fill="#ff1e4b"/>
<rect x="200" y="176.3" width="1" height="25.3" fill="#ff9fb0"/>
<rect x="199" y="176.3" width="3" height="20.0" fill="#ff1e4b"/>
<rect x="202" y="186.6" width="1" height="40.0" fill="#ff9fb0"/>
<rect x="201" y="195.3" width="3" height="1.7" fill="#ff1e4b"/>
<rect x="205" y="165.8" width="1" height="31.1" fill="#8edfc0"/>
<rect x="204" y="173.3" width="3" height="23.6" fill="#00be82"/>
<rect x="207" y="152.0" width="1" height="21.6" fill="#8edfc0"/>
<rect x="206" y="162.0" width="3" height="11.7" fill="#00be82"/>
<rect x="210" y="162.0" width="1" height="22.1" fill="#ff9fb0"/>
<rect x="209" y="162.0" width="3" height="22.1" fill="#ff1e4b"/>
<rect x="212" y="160.0" width="1" height="24.1" fill="#8edfc0"/>
<rect x="211" y="163.3" width="3" height="20.8" fill="#00be82"/>
<rect x="215" y="163.3" width="1" height="16.3" fill="#ff9fb0"/>
<rect x="214" y="163.3" width="3" height="10.3" fill="#ff1e4b"/>
<rect x="217" y="165.0" width="1" height="8.7" fill="#8edfc0"/>
<rect x="216" y="169.1" width="3" height="4.5" fill="#00be82"/>
<rect x="220" y="169.1" width="1" height="33.8" fill="#ff9fb0"/>
<rect x="219" y="169.1" width="3" height="33.8" fill="#ff1e4b"/>
<rect x="222" y="202.4" width="1" height="30.5" fill="#ff9fb0"/>
<rect x="221" y="202.4" width="3" height="11.2" fill="#ff1e4b"/>
<rect x="224" y="213.3" width="1" height="4.7" fill="#ff9fb0"/>
<rect x="223" y="213.3" width="3" height="4.7" fill="#ff1e4b"/>
<rect x="227" y="186.3" width="1" height="35.6" fill="#8edfc0"/>
<rect x="226" y="200.3" width="3" height="17.6" fill="#00be82"/>
<rect x="229" y="186.3" width="1" height="14.5" fill="#8edfc0"/>
<rect x="228" y="197.4" width="3" height="3.3" fill="#00be82"/>
<rect x="232" y="180.0" width="1" height="18.0" fill="#8edfc0"/>
<rect x="231" y="191.3" width="3" height="6.7" fill="#00be82"/>
<rect x="234" y="188.3" width="1" height="3.3" fill="#8edfc0"/>
<rect x="233" y="188.3" width="3" height="3.3" fill="#00be82"/>
<rect x="237" y="188.3" width="1" height="28.6" fill="#ff9fb0"/>
<rect x="236" y="188.3" width="3" height="13.7" fill="#ff1e4b"/>
<rect x="239" y="191.3" width="1" height="10.7" fill="#8edfc0"/>
<rect x="238" y="191.3" width="3" height="10.7" fill="#00be82"/>
<rect x="242" y="188.3" width="1" height="16.7" fill="#ff9fb0"/>
<rect x="241" y="191.3" width="3" height="13.7" fill="#ff1e4b"/>
<rect x="244" y="195.8" width="1" height="10.2" fill="#8edfc0"/>
<rect x="243" y="195.8" width="3" height="9.2" fill="#00be82"/>
<rect x="246" y="180.0" width="1" height="16.3" fill="#8edfc0"/>
<rect x="245" y="180.0" width="3" height="16.3" fill="#00be82"/>
<rect x="249" y="170.8" width="1" height="14.2" fill="#ff9fb0"/>
<rect x="248" y="180.0" width="3" height="3.3" fill="#ff1e4b"/>
<rect x="251" y="170.0" width="1" height="13.0" fill="#8edfc0"/>
<rect x="250" y="177.5" width="3" height="5.5" fill="#00be82"/>
<rect x="254" y="177.5" width="1" height="15.5" fill="#ff9fb0"/>
<rect x="253" y="177.5" width="3" height="15.5" fill="#ff1e4b"/>
<rect x="256" y="192.4" width="1" height="2.2" fill="#ff9fb0"/>
<rect x="255" y="192.4" width="3" height="2.2" fill="#ff1e4b"/>
<rect x="259" y="191.3" width="1" height="3.3" fill="#8edfc0"/>
<rect x="258" y="191.3" width="3" height="3.3" fill="#00be82"/>
<rect x="261" y="186.3" width="1" height="8.7" fill="#8edfc0"/>
<rect x="260" y="186.3" width="3" height="5.3" fill="#00be82"/>
<rect x="264" y="186.3" width="1" height="5.7" fill="#ff9fb0"/>
<rect x="263" y="186.3" width="3" height="5.7" fill="#ff1e4b"/>
<rect x="266" y="191.3" width="1" height="19.5" fill="#ff9fb0"/>
<rect x="265" y="191.3" width="3" height="19.5" fill="#ff1e4b"/>
<rect x="268" y="186.3" width="1" height="24.5" fill="#8edfc0"/>
<rect x="267" y="188.3" width="3" height="22.5" fill="#00be82"/>
<rect x="271" y="181.9" width="1" height="18.8" fill="#ff9fb0"/>
<rect x="270" y="188.3" width="3" height="9.7" fill="#ff1e4b"/>
<rect x="273" y="191.9" width="1" height="9.3" fill="#8edfc0"/>
<rect x="272" y="191.9" width="3" height="6.0" fill="#00be82"/>
<rect x="276" y="187.1" width="1" height="5.3" fill="#8edfc0"/>
<rect x="275" y="187.1" width="3" height="5.3" fill="#00be82"/>
<rect x="278" y="187.1" width="1" height="7.8" fill="#ff9fb0"/>
<rect x="277" y="187.1" width="3" height="2.0" fill="#ff1e4b"/>
<rect x="281" y="135.8" width="1" height="53.3" fill="#8edfc0"/>
<rect x="280" y="147.0" width="3" height="42.1" fill="#00be82"/>
<rect x="283" y="144.2" width="1" height="10.8" fill="#ff9fb0"/>
<rect x="282" y="147.0" width="3" height="8.0" fill="#ff1e4b"/>
<rect x="286" y="150.0" width="1" height="21.6" fill="#ff9fb0"/>
<rect x="285" y="154.1" width="3" height="3.8" fill="#ff1e4b"/>
<rect x="288" y="150.0" width="1" height="10.8" fill="#ff9fb0"/>
<rect x="287" y="158.0" width="3" height="2.8" fill="#ff1e4b"/>
<rect x="290" y="160.0" width="1" height="9.2" fill="#ff9fb0"/>
<rect x="289" y="160.0" width="3" height="3.8" fill="#ff1e4b"/>
<rect x="293" y="152.0" width="1" height="19.3" fill="#8edfc0"/>
<rect x="292" y="152.0" width="3" height="11.8" fill="#00be82"/>
<rect x="295" y="152.0" width="1" height="9.3" fill="#ff9fb0"/>
<rect x="294" y="152.0" width="3" height="6.7" fill="#ff1e4b"/>
<rect x="298" y="151.3" width="1" height="7.3" fill="#8edfc0"/>
<rect x="297" y="151.3" width="3" height="7.3" fill="#00be82"/>
<rect x="300" y="147.0" width="1" height="17.1" fill="#ff9fb0"/>
<rect x="299" y="151.3" width="3" height="7.3" fill="#ff1e4b"/>
<rect x="303" y="158.3" width="1" height="16.7" fill="#ff9fb0"/>
<rect x="302" y="158.3" width="3" height="16.7" fill="#ff1e4b"/>
<rect x="305" y="164.1" width="1" height="14.2" fill="#ff9fb0"/>
<rect x="304" y="174.1" width="3" height="1.0" fill="#ff1e4b"/>
<rect x="308" y="170.0" width="1" height="10.0" fill="#8edfc0"/>
<rect x="307" y="170.0" width="3" height="5.0" fill="#00be82"/>
<rect x="310" y="170.3" width="1" height="4.3" fill="#8edfc0"/>
<rect x="309" y="170.3" width="3" height="4.3" fill="#00be82"/>
<rect x="312" y="166.1" width="1" height="4.2" fill="#8edfc0"/>
<rect x="311" y="166.1" width="3" height="4.2" fill="#00be82"/>
<rect x="315" y="166.1" width="1" height="4.2" fill="#ff9fb0"/>
<rect x="314" y="166.1" width="3" height="1.8" fill="#ff1e4b"/>
<rect x="317" y="166.3" width="1" height="4.5" fill="#ff9fb0"/>
<rect x="316" y="166.3" width="3" height="2.0" fill="#ff1e4b"/>
<rect x="320" y="144.2" width="1" height="26.6" fill="#8edfc0"/>
<rect x="319" y="157.5" width="3" height="10.5" fill="#00be82"/>
<rect x="322" y="145.0" width="1" height="13.0" fill="#8edfc0"/>
<rect x="321" y="145.0" width="3" height="13.0" fill="#00be82"/>
<rect x="324" y="144.9" width="1" height="12.5" fill="#ff9fb0"/>
<rect x="323" y="144.9" width="3" height="2.0" fill="#ff1e4b"/>
<rect x="327" y="88.0" width="1" height="58.9" fill="#8edfc0"/>
<rect x="326" y="117.0" width="3" height="30.0" fill="#00be82"/>
<rect x="330" y="101.6" width="1" height="19.1" fill="#8edfc0"/>
<rect x="329" y="115.0" width="3" height="2.0" fill="#00be82"/>
<rect x="332" y="107.0" width="1" height="8.8" fill="#8edfc0"/>
<rect x="331" y="110.0" width="3" height="5.8" fill="#00be82"/>
<rect x="334" y="110.0" width="1" height="14.2" fill="#ff9fb0"/>
<rect x="333" y="110.0" width="3" height="9.7" fill="#ff1e4b"/>
<rect x="337" y="115.0" width="1" height="13.3" fill="#8edfc0"/>
<rect x="336" y="115.0" width="3" height="4.7" fill="#00be82"/>
<rect x="339" y="115.0" width="1" height="9.2" fill="#ff9fb0"/>
<rect x="338" y="115.0" width="3" height="3.0" fill="#ff1e4b"/>
<rect x="342" y="114.1" width="1" height="10.5" fill="#ff9fb0"/>
<rect x="341" y="117.5" width="3" height="7.2" fill="#ff1e4b"/>
<rect x="344" y="122.5" width="1" height="5.5" fill="#8edfc0"/>
<rect x="343" y="122.5" width="3" height="2.2" fill="#00be82"/>
<rect x="347" y="100.8" width="1" height="22.1" fill="#8edfc0"/>
<rect x="346" y="103.3" width="3" height="19.6" fill="#00be82"/>
<rect x="349" y="94.1" width="1" height="10.8" fill="#ff9fb0"/>
<rect x="348" y="103.3" width="3" height="1.7" fill="#ff1e4b"/>
<rect x="351" y="104.1" width="1" height="12.8" fill="#ff9fb0"/>
<rect x="350" y="104.1" width="3" height="10.8" fill="#ff1e4b"/>
<rect x="354" y="111.3" width="1" height="6.7" fill="#8edfc0"/>
<rect x="353" y="111.3" width="3" height="3.7" fill="#00be82"/>
<rect x="356" y="100.0" width="1" height="11.7" fill="#8edfc0"/>
<rect x="355" y="103.3" width="3" height="8.3" fill="#00be82"/>
<rect x="359" y="92.0" width="1" height="11.7" fill="#8edfc0"/>
<rect x="358" y="100.0" width="3" height="3.7" fill="#00be82"/>
<rect x="361" y="94.1" width="1" height="15.8" fill="#ff9fb0"/>
<rect x="360" y="100.0" width="3" height="6.7" fill="#ff1e4b"/>
<rect x="364" y="106.3" width="1" height="4.5" fill="#ff9fb0"/>
<rect x="363" y="106.3" width="3" height="4.5" fill="#ff1e4b"/>
<rect x="366" y="107.5" width="1" height="11.7" fill="#ff9fb0"/>
<rect x="365" y="110.5" width="3" height="1.5" fill="#ff1e4b"/>
<rect x="369" y="108.0" width="1" height="12.0" fill="#ff9fb0"/>
<rect x="368" y="111.3" width="3" height="2.3" fill="#ff1e4b"/>
<rect x="371" y="110.0" width="1" height="10.0" fill="#8edfc0"/>
<rect x="370" y="110.0" width="3" height="3.7" fill="#00be82"/>
<rect x="373" y="109.1" width="1" height="7.5" fill="#8edfc0"/>
<rect x="372" y="109.1" width="3" height="1.2" fill="#00be82"/>
<rect x="376" y="109.1" width="1" height="13.8" fill="#ff9fb0"/>
<rect x="375" y="109.1" width="3" height="13.8" fill="#ff1e4b"/>
<rect x="378" y="122.5" width="1" height="24.5" fill="#ff9fb0"/>
<rect x="377" y="122.5" width="3" height="16.2" fill="#ff1e4b"/>
<rect x="381" y="136.3" width="1" height="6.7" fill="#ff9fb0"/>
<rect x="380" y="137.9" width="3" height="5.0" fill="#ff1e4b"/>
<rect x="383" y="142.4" width="1" height="43.3" fill="#ff9fb0"/>
<rect x="382" y="142.4" width="3" height="14.5" fill="#ff1e4b"/>
<rect x="386" y="139.1" width="1" height="21.6" fill="#8edfc0"/>
<rect x="385" y="144.1" width="3" height="12.8" fill="#00be82"/>
<rect x="388" y="139.1" width="1" height="9.5" fill="#ff9fb0"/>
<rect x="387" y="144.1" width="3" height="4.5" fill="#ff1e4b"/>
<rect x="391" y="139.1" width="1" height="11.7" fill="#8edfc0"/>
<rect x="390" y="147.4" width="3" height="1.2" fill="#00be82"/>
<rect x="393" y="125.0" width="1" height="23.3" fill="#8edfc0"/>
<rect x="392" y="136.3" width="3" height="12.0" fill="#00be82"/>
<rect x="395" y="131.3" width="1" height="5.3" fill="#8edfc0"/>
<rect x="394" y="135.3" width="3" height="1.3" fill="#00be82"/>
<rect x="398" y="135.3" width="1" height="7.2" fill="#ff9fb0"/>
<rect x="397" y="135.3" width="3" height="7.2" fill="#ff1e4b"/>
<rect x="400" y="142.1" width="1" height="10.3" fill="#ff9fb0"/>
<rect x="399" y="142.1" width="3" height="10.3" fill="#ff1e4b"/>
<rect x="403" y="151.9" width="1" height="15.5" fill="#ff9fb0"/>
<rect x="402" y="151.9" width="3" height="15.5" fill="#ff1e4b"/>
<rect x="405" y="165.4" width="1" height="2.0" fill="#8edfc0"/>
<rect x="404" y="165.4" width="3" height="2.0" fill="#00be82"/>
<rect x="408" y="165.4" width="1" height="1.2" fill="#ff9fb0"/>
<rect x="407" y="165.4" width="3" height="1.2" fill="#ff1e4b"/>
<rect x="410" y="166.2" width="1" height="3.7" fill="#8edfc0"/>
<rect x="409" y="166.2" width="3" height="1.0" fill="#00be82"/>
<rect x="413" y="166.2" width="1" height="7.8" fill="#ff9fb0"/>
<rect x="412" y="166.2" width="3" height="1.7" fill="#ff1e4b"/>
<rect x="415" y="167.1" width="1" height="30.8" fill="#ff9fb0"/>
<rect x="414" y="167.1" width="3" height="4.5" fill="#ff1e4b"/>
<rect x="417" y="166.2" width="1" height="17.3" fill="#ff9fb0"/>
<rect x="416" y="171.2" width="3" height="5.3" fill="#ff1e4b"/>
<rect x="420" y="168.2" width="1" height="8.3" fill="#8edfc0"/>
<rect x="419" y="174.9" width="3" height="1.7" fill="#00be82"/>
<rect x="422" y="170.2" width="1" height="6.0" fill="#8edfc0"/>
<rect x="421" y="170.2" width="3" height="6.0" fill="#00be82"/>
<rect x="425" y="163.2" width="1" height="7.5" fill="#8edfc0"/>
<rect x="424" y="166.9" width="3" height="3.8" fill="#00be82"/>
<rect x="427" y="166.9" width="1" height="11.7" fill="#ff9fb0"/>
<rect x="426" y="166.9" width="3" height="11.7" fill="#ff1e4b"/>
<rect x="430" y="170.7" width="1" height="10.8" fill="#ff9fb0"/>
<rect x="429" y="178.2" width="3" height="1.7" fill="#ff1e4b"/>
<rect x="432" y="146.3" width="1" height="33.6" fill="#8edfc0"/>
<rect x="431" y="147.9" width="3" height="32.0" fill="#00be82"/>
<rect x="435" y="146.9" width="1" height="12.2" fill="#ff9fb0"/>
<rect x="434" y="147.9" width="3" height="11.2" fill="#ff1e4b"/>
<rect x="437" y="158.3" width="1" height="7.5" fill="#ff9fb0"/>
<rect x="436" y="158.3" width="3" height="1.7" fill="#ff1e4b"/>
<rect x="439" y="152.4" width="1" height="7.2" fill="#8edfc0"/>
<rect x="438" y="154.1" width="3" height="5.5" fill="#00be82"/>
<rect x="442" y="151.3" width="1" height="8.7" fill="#8edfc0"/>
<rect x="441" y="152.9" width="3" height="1.7" fill="#00be82"/>
<rect x="444" y="151.3" width="1" height="4.5" fill="#ff9fb0"/>
<rect x="443" y="152.9" width="3" height="2.8" fill="#ff1e4b"/>
<rect x="447" y="155.4" width="1" height="5.3" fill="#ff9fb0"/>
<rect x="446" y="155.4" width="3" height="5.3" fill="#ff1e4b"/>
<rect x="449" y="154.6" width="1" height="27.0" fill="#ff9fb0"/>
<rect x="448" y="160.2" width="3" height="17.6" fill="#ff1e4b"/>
<rect x="452" y="159.1" width="1" height="18.8" fill="#8edfc0"/>
<rect x="451" y="159.1" width="3" height="18.8" fill="#00be82"/>
<rect x="454" y="156.3" width="1" height="6.2" fill="#ff9fb0"/>
<rect x="453" y="157.9" width="3" height="4.5" fill="#ff1e4b"/>
<rect x="457" y="161.9" width="1" height="4.7" fill="#ff9fb0"/>
<rect x="456" y="161.9" width="3" height="4.7" fill="#ff1e4b"/>
<rect x="459" y="166.2" width="1" height="2.3" fill="#ff9fb0"/>
<rect x="458" y="166.2" width="3" height="2.3" fill="#ff1e4b"/>
<rect x="462" y="167.9" width="1" height="0.7" fill="#ff9fb0"/>
<rect x="461" y="167.9" width="3" height="1.0" fill="#ff1e4b"/>
<rect x="464" y="168.3" width="1" height="19.6" fill="#ff9fb0"/>
<rect x="463" y="168.3" width="3" height="19.6" fill="#ff1e4b"/>
<rect x="466" y="187.4" width="1" height="36.6" fill="#ff9fb0"/>
<rect x="465" y="187.4" width="3" height="14.5" fill="#ff1e4b"/>
<rect x="469" y="198.3" width="1" height="9.7" fill="#ff9fb0"/>
<rect x="468" y="201.3" width="3" height="5.0" fill="#ff1e4b"/>
<rect x="471" y="182.4" width="1" height="25.5" fill="#8edfc0"/>
<rect x="470" y="182.4" width="3" height="23.8" fill="#00be82"/>
<rect x="474" y="173.0" width="1" height="10.7" fill="#ff9fb0"/>
<rect x="473" y="182.4" width="3" height="1.2" fill="#ff1e4b"/>
<rect x="476" y="182.4" width="1" height="11.7" fill="#ff9fb0"/>
<rect x="475" y="182.4" width="3" height="11.7" fill="#ff1e4b"/>
<rect x="479" y="183.3" width="1" height="10.8" fill="#8edfc0"/>
<rect x="478" y="187.9" width="3" height="6.2" fill="#00be82"/>
<rect x="480" y="177.4" width="1" height="15.8" fill="#8edfc0"/>
<rect x="479" y="177.4" width="3" height="15.8" fill="#00be82"/>
<rect x="483" y="177.4" width="1" height="10.5" fill="#ff9fb0"/>
<rect x="482" y="177.4" width="3" height="10.5" fill="#ff1e4b"/>
<rect x="486" y="180.3" width="1" height="7.7" fill="#8edfc0"/>
<rect x="485" y="180.3" width="3" height="7.7" fill="#00be82"/>
<rect x="488" y="149.1" width="1" height="31.6" fill="#8edfc0"/>
<rect x="487" y="159.1" width="3" height="21.6" fill="#00be82"/>
<rect x="491" y="159.1" width="1" height="18.8" fill="#ff9fb0"/>
<rect x="490" y="159.1" width="3" height="16.7" fill="#ff1e4b"/>
<rect x="493" y="165.0" width="1" height="13.0" fill="#8edfc0"/>
<rect x="492" y="168.3" width="3" height="7.5" fill="#00be82"/>
<rect x="496" y="168.3" width="1" height="10.8" fill="#ff9fb0"/>
<rect x="495" y="168.3" width="3" height="8.0" fill="#ff1e4b"/>
<rect x="498" y="166.6" width="1" height="9.7" fill="#8edfc0"/>
<rect x="497" y="173.3" width="3" height="3.0" fill="#00be82"/>
<rect x="501" y="160.8" width="1" height="12.8" fill="#8edfc0"/>
<rect x="500" y="164.1" width="3" height="9.5" fill="#00be82"/>
<rect x="503" y="164.1" width="1" height="4.5" fill="#ff9fb0"/>
<rect x="502" y="164.1" width="3" height="2.8" fill="#ff1e4b"/>
<rect x="505" y="165.8" width="1" height="1.2" fill="#8edfc0"/>
<rect x="504" y="165.8" width="3" height="1.2" fill="#00be82"/>
<rect x="508" y="137.0" width="1" height="29.6" fill="#8edfc0"/>
<rect x="507" y="141.3" width="3" height="25.3" fill="#00be82"/>
<rect x="510" y="60.9" width="1" height="90.4" fill="#8edfc0"/>
<rect x="509" y="81.4" width="3" height="59.9" fill="#00be82"/>
<rect x="513" y="76.4" width="1" height="38.6" fill="#ff9fb0"/>
<rect x="512" y="82.0" width="3" height="33.0" fill="#ff1e4b"/>
<rect x="515" y="107.0" width="1" height="8.0" fill="#8edfc0"/>
<rect x="514" y="111.3" width="3" height="3.7" fill="#00be82"/>
<rect x="518" y="111.3" width="1" height="4.5" fill="#ff9fb0"/>
<rect x="517" y="111.3" width="3" height="4.5" fill="#ff1e4b"/>
<rect x="520" y="115.3" width="1" height="12.7" fill="#ff9fb0"/>
<rect x="519" y="115.3" width="3" height="12.7" fill="#ff1e4b"/>
<rect x="523" y="122.5" width="1" height="7.5" fill="#8edfc0"/>
<rect x="522" y="122.5" width="3" height="5.5" fill="#00be82"/>
<rect x="525" y="105.8" width="1" height="17.1" fill="#8edfc0"/>
<rect x="524" y="119.2" width="3" height="3.8" fill="#00be82"/>
<rect x="527" y="119.2" width="1" height="12.8" fill="#ff9fb0"/>
<rect x="526" y="119.2" width="3" height="11.2" fill="#ff1e4b"/>
<rect x="530" y="100.9" width="1" height="34.1" fill="#8edfc0"/>
<rect x="529" y="120.3" width="3" height="10.0" fill="#00be82"/>
<rect x="532" y="104.2" width="1" height="16.8" fill="#ff9fb0"/>
<rect x="531" y="120.0" width="3" height="1.0" fill="#ff1e4b"/>
<rect x="534" y="112.0" width="1" height="8.8" fill="#8edfc0"/>
<rect x="533" y="114.2" width="3" height="6.7" fill="#00be82"/>
<rect x="537" y="112.0" width="1" height="26.0" fill="#ff9fb0"/>
<rect x="536" y="114.2" width="3" height="23.8" fill="#ff1e4b"/>
<rect x="540" y="132.0" width="1" height="9.7" fill="#8edfc0"/>
<rect x="539" y="132.0" width="3" height="6.0" fill="#00be82"/>
<rect x="542" y="126.3" width="1" height="14.5" fill="#8edfc0"/>
<rect x="541" y="126.3" width="3" height="6.2" fill="#00be82"/>
<rect x="545" y="123.0" width="1" height="5.3" fill="#ff9fb0"/>
<rect x="544" y="126.3" width="3" height="2.0" fill="#ff1e4b"/>
<rect x="547" y="127.5" width="1" height="13.3" fill="#ff9fb0"/>
<rect x="546" y="127.5" width="3" height="5.5" fill="#ff1e4b"/>
<rect x="549" y="108.3" width="1" height="26.6" fill="#8edfc0"/>
<rect x="548" y="129.2" width="3" height="3.8" fill="#00be82"/>
<rect x="552" y="121.3" width="1" height="8.3" fill="#8edfc0"/>
<rect x="551" y="121.3" width="3" height="8.3" fill="#00be82"/>
<rect x="554" y="121.3" width="1" height="18.6" fill="#ff9fb0"/>
<rect x="553" y="121.3" width="3" height="18.6" fill="#ff1e4b"/>
<rect x="557" y="136.3" width="1" height="12.8" fill="#ff9fb0"/>
<rect x="556" y="139.1" width="3" height="3.8" fill="#ff1e4b"/>
<rect x="559" y="133.0" width="1" height="18.3" fill="#8edfc0"/>
<rect x="558" y="134.2" width="3" height="8.8" fill="#00be82"/>
<rect x="562" y="134.2" width="1" height="1.2" fill="#8edfc0"/>
<rect x="561" y="134.2" width="3" height="1.2" fill="#00be82"/>
<rect x="564" y="134.2" width="1" height="64.9" fill="#ff9fb0"/>
<rect x="563" y="134.2" width="3" height="39.5" fill="#ff1e4b"/>
<rect x="567" y="170.0" width="1" height="20.0" fill="#ff9fb0"/>
<rect x="566" y="173.3" width="3" height="9.7" fill="#ff1e4b"/>
<rect x="569" y="173.6" width="1" height="12.7" fill="#8edfc0"/>
<rect x="568" y="173.6" width="3" height="9.3" fill="#00be82"/>
<rect x="571" y="174.1" width="1" height="11.7" fill="#ff9fb0"/>
<rect x="570" y="174.1" width="3" height="2.5" fill="#ff1e4b"/>
<rect x="574" y="167.5" width="1" height="9.2" fill="#8edfc0"/>
<rect x="573" y="167.5" width="3" height="9.2" fill="#00be82"/>
<rect x="576" y="157.0" width="1" height="11.0" fill="#8edfc0"/>
<rect x="575" y="165.0" width="3" height="3.0" fill="#00be82"/>
<rect x="579" y="160.8" width="1" height="4.5" fill="#8edfc0"/>
<rect x="578" y="160.8" width="3" height="4.5" fill="#00be82"/>
<rect x="581" y="161.1" width="1" height="11.8" fill="#ff9fb0"/>
<rect x="580" y="161.1" width="3" height="11.8" fill="#ff1e4b"/>
<rect x="584" y="172.4" width="1" height="8.3" fill="#ff9fb0"/>
<rect x="583" y="172.4" width="3" height="8.3" fill="#ff1e4b"/>
<rect x="586" y="163.0" width="1" height="19.5" fill="#8edfc0"/>
<rect x="585" y="175.8" width="3" height="5.0" fill="#00be82"/>
<rect x="589" y="168.3" width="1" height="8.0" fill="#8edfc0"/>
<rect x="588" y="168.3" width="3" height="8.0" fill="#00be82"/>
<rect x="591" y="152.0" width="1" height="16.7" fill="#8edfc0"/>
<rect x="590" y="159.1" width="3" height="9.5" fill="#00be82"/>
<rect x="593" y="154.1" width="1" height="7.5" fill="#ff9fb0"/>
<rect x="592" y="159.1" width="3" height="2.5" fill="#ff1e4b"/>
<rect x="596" y="161.3" width="1" height="12.8" fill="#ff9fb0"/>
<rect x="595" y="161.3" width="3" height="10.7" fill="#ff1e4b"/>
<rect x="598" y="161.6" width="1" height="10.3" fill="#8edfc0"/>
<rect x="597" y="168.3" width="3" height="3.7" fill="#00be82"/>
<rect x="601" y="168.3" width="1" height="3.7" fill="#ff9fb0"/>
<rect x="600" y="168.3" width="3" height="3.7" fill="#ff1e4b"/>
<rect x="603" y="144.1" width="1" height="27.8" fill="#8edfc0"/>
<rect x="602" y="148.0" width="3" height="24.0" fill="#00be82"/>
<rect x="606" y="145.0" width="1" height="13.0" fill="#ff9fb0"/>
<rect x="605" y="147.0" width="3" height="11.0" fill="#ff1e4b"/>
<rect x="608" y="157.5" width="1" height="11.7" fill="#ff9fb0"/>
<rect x="607" y="157.5" width="3" height="9.5" fill="#ff1e4b"/>
<rect x="611" y="161.6" width="1" height="14.2" fill="#8edfc0"/>
<rect x="610" y="164.1" width="3" height="2.8" fill="#00be82"/>
<rect x="613" y="140.0" width="1" height="24.6" fill="#8edfc0"/>
<rect x="612" y="151.3" width="3" height="13.3" fill="#00be82"/>
<rect x="615" y="149.1" width="1" height="23.8" fill="#ff9fb0"/>
<rect x="614" y="151.3" width="3" height="21.6" fill="#ff1e4b"/>
<rect x="618" y="160.8" width="1" height="15.8" fill="#8edfc0"/>
<rect x="617" y="169.1" width="3" height="3.8" fill="#00be82"/>
<rect x="620" y="164.1" width="1" height="12.8" fill="#ff9fb0"/>
<rect x="619" y="169.1" width="3" height="7.8" fill="#ff1e4b"/>
<rect x="623" y="174.1" width="1" height="2.8" fill="#8edfc0"/>
<rect x="622" y="175.8" width="3" height="1.2" fill="#00be82"/>
<rect x="625" y="172.4" width="1" height="8.3" fill="#ff9fb0"/>
<rect x="624" y="176.3" width="3" height="4.5" fill="#ff1e4b"/>
<rect x="628" y="180.3" width="1" height="8.8" fill="#ff9fb0"/>
<rect x="627" y="180.3" width="3" height="6.7" fill="#ff1e4b"/>
<rect x="631" y="181.9" width="1" height="5.0" fill="#8edfc0"/>
<rect x="630" y="181.9" width="3" height="5.0" fill="#00be82"/>
<rect x="633" y="181.9" width="1" height="1.0" fill="#8edfc0"/>
<rect x="632" y="181.9" width="3" height="1.0" fill="#00be82"/>
<rect x="635" y="180.3" width="1" height="8.8" fill="#ff9fb0"/>
<rect x="634" y="181.9" width="3" height="4.3" fill="#ff1e4b"/>
<rect x="637" y="92.0" width="1" height="97.9" fill="#8edfc0"/>
<rect x="636" y="130.0" width="3" height="56.3" fill="#00be82"/>
<rect x="640" y="128.0" width="1" height="20.3" fill="#ff9fb0"/>
<rect x="639" y="130.0" width="3" height="15.0" fill="#ff1e4b"/>
<rect x="642" y="139.1" width="1" height="10.8" fill="#8edfc0"/>
<rect x="641" y="139.1" width="3" height="5.8" fill="#00be82"/>
<rect x="645" y="135.8" width="1" height="8.8" fill="#ff9fb0"/>
<rect x="644" y="139.1" width="3" height="5.5" fill="#ff1e4b"/>
<rect x="647" y="144.1" width="1" height="20.8" fill="#ff9fb0"/>
<rect x="646" y="144.1" width="3" height="13.8" fill="#ff1e4b"/>
<rect x="650" y="157.4" width="1" height="19.5" fill="#ff9fb0"/>
<rect x="649" y="157.4" width="3" height="19.5" fill="#ff1e4b"/>
<rect x="652" y="171.6" width="1" height="10.3" fill="#8edfc0"/>
<rect x="651" y="171.6" width="3" height="5.3" fill="#00be82"/>
<rect x="654" y="157.4" width="1" height="16.7" fill="#8edfc0"/>
<rect x="653" y="170.8" width="3" height="3.3" fill="#00be82"/>
<rect x="657" y="153.6" width="1" height="18.0" fill="#8edfc0"/>
<rect x="656" y="154.9" width="3" height="16.7" fill="#00be82"/>
<rect x="659" y="154.9" width="1" height="3.0" fill="#ff9fb0"/>
<rect x="658" y="154.9" width="3" height="3.0" fill="#ff1e4b"/>
<rect x="662" y="156.9" width="1" height="12.2" fill="#ff9fb0"/>
<rect x="661" y="156.9" width="3" height="6.7" fill="#ff1e4b"/>
<rect x="664" y="162.9" width="1" height="6.2" fill="#8edfc0"/>
<rect x="663" y="162.9" width="3" height="1.2" fill="#00be82"/>
<rect x="667" y="162.9" width="1" height="1.2" fill="#ff9fb0"/>
<rect x="666" y="162.9" width="3" height="1.2" fill="#ff1e4b"/>
<rect x="669" y="163.3" width="1" height="13.7" fill="#ff9fb0"/>
<rect x="668" y="163.3" width="3" height="5.0" fill="#ff1e4b"/>
<rect x="672" y="154.9" width="1" height="15.0" fill="#8edfc0"/>
<rect x="671" y="154.9" width="3" height="13.7" fill="#00be82"/>
<rect x="674" y="150.8" width="1" height="9.2" fill="#ff9fb0"/>
<rect x="673" y="154.9" width="3" height="5.0" fill="#ff1e4b"/>
<rect x="676" y="151.3" width="1" height="8.7" fill="#8edfc0"/>
<rect x="675" y="152.9" width="3" height="7.0" fill="#00be82"/>
<rect x="679" y="151.3" width="1" height="2.3" fill="#8edfc0"/>
<rect x="678" y="151.3" width="3" height="2.3" fill="#00be82"/>
<rect x="681" y="140.0" width="1" height="11.7" fill="#8edfc0"/>
<rect x="680" y="147.5" width="3" height="4.2" fill="#00be82"/>
<rect x="684" y="134.1" width="1" height="13.8" fill="#8edfc0"/>
<rect x="683" y="140.0" width="3" height="8.0" fill="#00be82"/>
<rect x="686" y="137.5" width="1" height="4.5" fill="#ff9fb0"/>
<rect x="685" y="140.0" width="3" height="2.0" fill="#ff1e4b"/>
<rect x="689" y="137.0" width="1" height="5.7" fill="#ff9fb0"/>
<rect x="688" y="141.3" width="3" height="1.3" fill="#ff1e4b"/>
<rect x="691" y="140.8" width="1" height="1.7" fill="#8edfc0"/>
<rect x="690" y="140.8" width="3" height="1.7" fill="#00be82"/>
<rect x="694" y="137.0" width="1" height="5.7" fill="#ff9fb0"/>
<rect x="693" y="140.8" width="3" height="1.8" fill="#ff1e4b"/>
<rect x="696" y="142.0" width="1" height="18.0" fill="#ff9fb0"/>
<rect x="695" y="142.0" width="3" height="18.0" fill="#ff1e4b"/>
<rect x="698" y="154.1" width="1" height="7.8" fill="#8edfc0"/>
<rect x="697" y="154.1" width="3" height="5.8" fill="#00be82"/>
<rect x="701" y="145.0" width="1" height="13.7" fill="#ff9fb0"/>
<rect x="700" y="154.1" width="3" height="4.5" fill="#ff1e4b"/>
<rect x="703" y="157.9" width="1" height="12.0" fill="#ff9fb0"/>
<rect x="702" y="157.9" width="3" height="6.2" fill="#ff1e4b"/>
<rect x="706" y="159.9" width="1" height="4.2" fill="#8edfc0"/>
<rect x="705" y="159.9" width="3" height="4.2" fill="#00be82"/>
<rect x="708" y="150.0" width="1" height="20.8" fill="#ff9fb0"/>
<rect x="707" y="159.9" width="3" height="10.8" fill="#ff1e4b"/>
<rect x="711" y="165.8" width="1" height="7.2" fill="#ff9fb0"/>
<rect x="710" y="169.9" width="3" height="3.0" fill="#ff1e4b"/>
<rect x="713" y="165.8" width="1" height="14.2" fill="#8edfc0"/>
<rect x="712" y="171.6" width="3" height="1.3" fill="#00be82"/>
<rect x="716" y="166.3" width="1" height="13.7" fill="#8edfc0"/>
<rect x="715" y="166.3" width="3" height="6.7" fill="#00be82"/>
<rect x="718" y="155.3" width="1" height="11.3" fill="#8edfc0"/>
<rect x="717" y="156.9" width="3" height="9.7" fill="#00be82"/>
<rect x="720" y="156.9" width="1" height="13.0" fill="#ff9fb0"/>
<rect x="719" y="156.9" width="3" height="8.0" fill="#ff1e4b"/>
<rect x="723" y="161.3" width="1" height="3.7" fill="#8edfc0"/>
<rect x="722" y="161.3" width="3" height="3.7" fill="#00be82"/>
<rect x="725" y="157.9" width="1" height="7.8" fill="#ff9fb0"/>
<rect x="724" y="161.3" width="3" height="2.8" fill="#ff1e4b"/>
<rect x="728" y="151.9" width="1" height="12.2" fill="#8edfc0"/>
<rect x="727" y="151.9" width="3" height="12.2" fill="#00be82"/>
<rect x="730" y="144.1" width="1" height="9.2" fill="#8edfc0"/>
<rect x="729" y="144.1" width="3" height="9.2" fill="#00be82"/>
<rect x="733" y="144.1" width="1" height="8.3" fill="#ff9fb0"/>
<rect x="732" y="144.1" width="3" height="8.3" fill="#ff1e4b"/>
<rect x="735" y="151.9" width="1" height="7.2" fill="#ff9fb0"/>
<rect x="734" y="151.9" width="3" height="7.2" fill="#ff1e4b"/>
<rect x="738" y="156.3" width="1" height="3.3" fill="#ff9fb0"/>
<rect x="737" y="158.3" width="3" height="1.3" fill="#ff1e4b"/>
<rect x="740" y="158.6" width="1" height="1.0" fill="#8edfc0"/>
<rect x="739" y="158.6" width="3" height="1.0" fill="#00be82"/>
<rect x="742" y="151.3" width="1" height="7.8" fill="#8edfc0"/>
<rect x="741" y="151.3" width="3" height="7.8" fill="#00be82"/>
<rect x="745" y="148.0" width="1" height="3.7" fill="#8edfc0"/>
<rect x="744" y="149.6" width="3" height="2.0" fill="#00be82"/>
<rect x="747" y="149.6" width="1" height="1.0" fill="#8edfc0"/>
<rect x="746" y="149.6" width="3" height="1.0" fill="#00be82"/>
<rect x="750" y="150.0" width="1" height="5.0" fill="#ff9fb0"/>
<rect x="749" y="150.0" width="3" height="5.0" fill="#ff1e4b"/>
<rect x="752" y="153.3" width="1" height="6.7" fill="#8edfc0"/>
<rect x="751" y="153.3" width="3" height="1.7" fill="#00be82"/>
<rect x="755" y="153.3" width="1" height="7.5" fill="#ff9fb0"/>
<rect x="754" y="153.3" width="3" height="7.5" fill="#ff1e4b"/>
<rect x="757" y="160.3" width="1" height="1.7" fill="#ff9fb0"/>
<rect x="756" y="160.3" width="3" height="1.7" fill="#ff1e4b"/>
<rect x="760" y="160.9" width="1" height="1.0" fill="#8edfc0"/>
<rect x="759" y="160.9" width="3" height="1.0" fill="#00be82"/>
<rect x="762" y="160.9" width="1" height="2.7" fill="#ff9fb0"/>
<rect x="761" y="160.9" width="3" height="2.7" fill="#ff1e4b"/>
<rect x="765" y="162.6" width="1" height="1.3" fill="#ff9fb0"/>
<rect x="764" y="162.6" width="3" height="1.3" fill="#ff1e4b"/>
<rect x="767" y="152.9" width="1" height="11.0" fill="#8edfc0"/>
<rect x="766" y="154.1" width="3" height="9.8" fill="#00be82"/>
<rect x="769" y="154.1" width="1" height="5.5" fill="#ff9fb0"/>
<rect x="768" y="154.1" width="3" height="5.5" fill="#ff1e4b"/>
<rect x="772" y="159.1" width="1" height="4.7" fill="#ff9fb0"/>
<rect x="771" y="159.1" width="3" height="4.7" fill="#ff1e4b"/>
<rect x="774" y="161.3" width="1" height="4.5" fill="#8edfc0"/>
<rect x="773" y="161.3" width="3" height="2.5" fill="#00be82"/>
<rect x="777" y="158.3" width="1" height="6.3" fill="#ff9fb0"/>
<rect x="776" y="161.3" width="3" height="3.3" fill="#ff1e4b"/>
<rect x="779" y="163.8" width="1" height="1.2" fill="#ff9fb0"/>
<rect x="778" y="163.8" width="3" height="1.2" fill="#ff1e4b"/>
<rect x="782" y="161.0" width="1" height="16.0" fill="#ff9fb0"/>
<rect x="781" y="164.0" width="3" height="13.0" fill="#ff1e4b"/>
<rect x="784" y="173.0" width="1" height="22.3" fill="#8edfc0"/>
<rect x="783" y="173.0" width="3" height="4.0" fill="#00be82"/>
<rect x="786" y="170.0" width="1" height="11.0" fill="#ff9fb0"/>
<rect x="785" y="173.0" width="3" height="4.0" fill="#ff1e4b"/>
<rect x="789" y="167.0" width="1" height="12.0" fill="#8edfc0"/>
<rect x="788" y="171.3" width="3" height="5.7" fill="#00be82"/>
<rect x="791" y="144.0" width="1" height="31.0" fill="#8edfc0"/>
<rect x="790" y="160.0" width="3" height="12.0" fill="#00be82"/>
<rect x="794" y="156.0" width="1" height="10.0" fill="#8edfc0"/>
<rect x="793" y="157.3" width="3" height="3.7" fill="#00be82"/>
<rect x="796" y="154.0" width="1" height="17.0" fill="#ff9fb0"/>
<rect x="795" y="157.0" width="3" height="1.0" fill="#ff1e4b"/>
<rect x="799" y="146.0" width="1" height="17.0" fill="#8edfc0"/>
<rect x="798" y="147.0" width="3" height="11.0" fill="#00be82"/>
<rect x="801" y="144.0" width="1" height="13.7" fill="#ff9fb0"/>
<rect x="800" y="147.0" width="3" height="5.7" fill="#ff1e4b"/>
<rect x="804" y="152.0" width="1" height="9.0" fill="#ff9fb0"/>
<rect x="803" y="152.0" width="3" height="9.0" fill="#ff1e4b"/>
<rect x="807" y="160.0" width="1" height="2.0" fill="#ff9fb0"/>
<rect x="806" y="160.0" width="3" height="2.0" fill="#ff1e4b"/>
<rect x="811" y="161.0" width="1" height="6.7" fill="#ff9fb0"/>
<rect x="810" y="161.0" width="3" height="6.7" fill="#ff1e4b"/>
<rect x="813" y="167.0" width="1" height="5.7" fill="#ff9fb0"/>
<rect x="812" y="167.0" width="3" height="5.7" fill="#ff1e4b"/>
<rect x="816" y="172.0" width="1" height="20.6" fill="#ff9fb0"/>
<rect x="815" y="172.0" width="3" height="20.6" fill="#ff1e4b"/>
<rect x="819" y="180.0" width="1" height="12.6" fill="#8edfc0"/>
<rect x="818" y="181.7" width="3" height="10.9" fill="#00be82"/>
<rect x="821" y="182.3" width="1" height="83.1" fill="#ff9fb0"/>
<rect x="820" y="182.3" width="3" height="83.1" fill="#ff1e4b"/>
<rect x="823" y="265.0" width="1" height="197.0" fill="#ff9fb0"/>
<rect x="822" y="265.0" width="3" height="106.6" fill="#ff1e4b"/>
<rect x="826" y="313.3" width="1" height="72.7" fill="#8edfc0"/>
<rect x="825" y="362.0" width="3" height="9.6" fill="#00be82"/>
<rect x="828" y="350.0" width="1" height="12.0" fill="#ff9fb0"/>
<rect x="827" y="361.0" width="3" height="1.0" fill="#ff1e4b"/>
<rect x="830" y="353.5" width="1" height="8.3" fill="#8edfc0"/>
<rect x="829" y="353.5" width="3" height="8.3" fill="#00be82"/>
<path d="M4 353.5H928" stroke="#00be86" stroke-width="1" stroke-dasharray="2 1" fill="none"/>
<polyline points="4.0,437.0 5.0,436.8 6.0,436.7 7.0,436.5 8.0,436.4 9.0,436.2 10.0,436.0 11.0,435.9 12.0,435.7 13.0,435.5 14.0,435.4 15.0,435.2 16.0,435.1 17.0,434.9 18.0,434.7 19.0,434.6 20.0,434.4 21.0,434.3 22.0,434.1 23.0,433.9 24.0,433.8 25.0,433.6 26.0,433.4 27.0,433.3 28.0,433.1 29.0,433.0 30.0,432.8 31.0,433.3 32.0,433.8 33.0,434.3 34.0,436.3 35.0,439.6 36.0,443.0 37.0,446.3 38.0,449.7 39.0,450.2 40.0,450.6 41.0,451.1 42.0,451.5 43.0,452.0 44.0,452.1 45.0,452.2 46.0,452.3 47.0,452.4 48.0,452.5 49.0,452.6 50.0,452.7 51.0,452.8 52.0,452.9 53.0,453.0 54.0,453.4 55.0,453.9 56.0,454.3 57.0,454.7 58.0,455.1 59.0,455.6 60.0,456.0 61.0,456.2 62.0,456.4 63.0,456.6 64.0,456.8 65.0,456.9 66.0,457.1 67.0,457.3 68.0,457.5 69.0,457.5 70.0,457.5 71.0,457.5 72.0,457.5 73.0,457.5 74.0,457.5 75.0,457.5 76.0,457.5 77.0,457.5 78.0,456.1 79.0,454.8 80.0,453.4 81.0,452.0 82.0,451.9 83.0,451.8 84.0,451.8 85.0,451.7 86.0,451.6 87.0,451.5 88.0,451.4 89.0,451.3 90.0,451.2 91.0,451.2 92.0,451.1 93.0,451.0 94.0,451.0 95.0,450.9 96.0,450.9 97.0,450.9 98.0,450.9 99.0,450.8 100.0,450.8 101.0,450.8 102.0,450.7 103.0,450.7 104.0,450.7 105.0,450.6 106.0,450.6 107.0,450.6 108.0,450.6 109.0,450.5 110.0,450.5 111.0,450.6 112.0,450.8 113.0,450.9 114.0,451.0 115.0,451.1 116.0,451.2 117.0,451.4 118.0,451.5 119.0,451.6 120.0,451.8 121.0,451.9 122.0,452.0 123.0,452.1 124.0,452.3 125.0,452.4 126.0,452.5 127.0,452.7 128.0,452.8 129.0,454.5 130.0,456.3 131.0,458.0 132.0,458.1 133.0,458.1 134.0,458.2 135.0,458.2 136.0,458.3 137.0,458.3 138.0,458.4 139.0,458.4 140.0,458.5 141.0,458.5 142.0,458.6 143.0,458.6 144.0,458.7 145.0,458.7 146.0,458.8 147.0,458.8 148.0,458.9 149.0,458.9 150.0,459.0 151.0,458.9 152.0,458.9 153.0,458.8 154.0,458.7 155.0,458.7 156.0,458.6 157.0,458.5 158.0,458.5 159.0,458.4 160.0,458.3 161.0,458.3 162.0,458.2 163.0,458.1 164.0,458.1 165.0,458.0 166.0,458.0 167.0,458.0 168.0,458.0 169.0,458.0 170.0,458.0 171.0,458.0 172.0,458.0 173.0,458.0 174.0,458.0 175.0,458.0 176.0,458.0 177.0,458.0 178.0,458.0 179.0,458.0 180.0,458.0 181.0,458.0 182.0,458.0 183.0,458.0 184.0,458.0 185.0,458.0 186.0,458.0 187.0,458.0 188.0,457.6 189.0,457.2 190.0,456.8 191.0,456.4 192.0,456.0 193.0,456.0 194.0,456.1 195.0,456.1 196.0,456.1 197.0,456.2 198.0,456.2 199.0,456.2 200.0,456.3 201.0,456.3 202.0,456.3 203.0,456.4 204.0,456.4 205.0,456.4 206.0,456.5 207.0,456.5 208.0,456.6 209.0,456.6 210.0,456.7 211.0,456.8 212.0,456.8 213.0,456.9 214.0,457.0 215.0,457.0 216.0,457.1 217.0,457.1 218.0,457.2 219.0,457.3 220.0,457.3 221.0,457.4 222.0,457.5 223.0,457.5 224.0,457.6 225.0,457.7 226.0,457.7 227.0,457.8 228.0,458.0 229.0,458.2 230.0,458.4 231.0,458.7 232.0,458.9 233.0,459.1 234.0,459.3 235.0,459.5 236.0,459.7 237.0,460.0 238.0,460.2 239.0,460.4 240.0,460.6 241.0,460.7 242.0,460.8 243.0,460.8 244.0,460.9 245.0,461.0 246.0,461.1 247.0,461.2 248.0,461.2 249.0,461.3 250.0,461.4 251.0,461.4 252.0,461.3 253.0,461.3 254.0,461.3 255.0,461.3 256.0,461.2 257.0,461.2 258.0,461.2 259.0,461.2 260.0,461.1 261.0,461.1 262.0,461.1 263.0,461.1 264.0,461.1 265.0,461.0 266.0,461.0 267.0,460.6 268.0,460.1 269.0,459.7 270.0,459.3 271.0,459.3 272.0,459.3 273.0,459.3 274.0,459.3 275.0,459.3 276.0,459.3 277.0,459.3 278.0,459.3 279.0,459.3 280.0,459.3 281.0,459.3 282.0,459.3 283.0,459.3 284.0,459.3 285.0,459.3 286.0,459.3 287.0,459.3 288.0,459.3 289.0,459.3 290.0,459.3 291.0,459.3 292.0,459.3 293.0,459.3 294.0,459.3 295.0,459.3 296.0,459.3 297.0,459.3 298.0,459.3 299.0,459.3 300.0,459.3 301.0,459.7 302.0,460.1 303.0,460.5 304.0,460.9 305.0,461.3 306.0,461.3 307.0,461.3 308.0,461.3 309.0,461.3 310.0,461.3 311.0,461.3 312.0,461.3 313.0,461.3 314.0,461.3 315.0,461.4 316.0,461.4 317.0,461.4 318.0,461.4 319.0,461.4 320.0,461.4 321.0,461.4 322.0,461.4 323.0,461.4 324.0,461.4 325.0,461.4 326.0,461.4 327.0,461.4 328.0,461.4 329.0,461.4 330.0,461.4 331.0,461.4 332.0,461.4 333.0,461.4 334.0,461.4 335.0,461.4 336.0,461.5 337.0,461.5 338.0,461.5 339.0,461.5 340.0,461.5 341.0,461.5 342.0,461.5 343.0,461.5 344.0,461.5 345.0,461.5 346.0,461.7 347.0,461.9 348.0,462.1 349.0,462.4 350.0,462.6 351.0,462.8 352.0,463.0 353.0,463.0 354.0,463.0 355.0,463.0 356.0,463.0 357.0,463.0 358.0,463.0 359.0,463.0 360.0,463.0 361.0,463.0 362.0,463.0 363.0,463.0 364.0,463.0 365.0,463.0 366.0,463.0 367.0,463.0 368.0,463.0 369.0,463.0 370.0,463.0 371.0,463.0 372.0,463.0 373.0,463.0 374.0,463.0 375.0,463.0 376.0,463.0 377.0,463.0 378.0,463.0 379.0,463.0 380.0,463.0 381.0,463.0 382.0,462.7 383.0,462.3 384.0,462.0 385.0,461.6 386.0,461.3 387.0,461.3 388.0,461.3 389.0,461.3 390.0,461.3 391.0,461.3 392.0,461.3 393.0,461.3 394.0,461.3 395.0,461.3 396.0,461.3 397.0,461.3 398.0,461.3 399.0,461.3 400.0,461.3 401.0,461.3 402.0,461.3 403.0,461.3 404.0,461.3 405.0,461.3 406.0,461.3 407.0,461.3 408.0,461.3 409.0,461.3 410.0,461.3 411.0,461.3 412.0,461.3 413.0,461.3 414.0,461.3 415.0,461.3 416.0,461.3 417.0,461.3 418.0,461.3 419.0,461.3 420.0,461.3 421.0,461.3 422.0,461.3 423.0,461.3 424.0,461.3 425.0,461.3 426.0,461.3 427.0,461.3 428.0,461.3 429.0,461.3 430.0,461.3 431.0,461.3 432.0,461.3 433.0,461.3 434.0,461.3 435.0,461.3 436.0,461.3 437.0,461.3 438.0,461.3 439.0,461.3 440.0,461.3 441.0,461.1 442.0,460.9 443.0,460.7 444.0,460.6 445.0,460.4 446.0,460.2 447.0,460.0 448.0,460.0 449.0,460.0 450.0,460.0 451.0,460.0 452.0,460.0 453.0,460.0 454.0,460.0 455.0,460.0 456.0,460.0 457.0,460.0 458.0,460.0 459.0,460.0 460.0,460.0 461.0,460.3 462.0,460.5 463.0,460.8 464.0,461.0 465.0,461.3 466.0,461.3 467.0,461.3 468.0,461.3 469.0,461.3 470.0,461.3 471.0,461.3 472.0,461.3 473.0,461.3 474.0,461.3 475.0,461.3 476.0,461.3 477.0,461.3 478.0,461.3 479.0,461.3 480.0,461.3 481.0,461.3 482.0,461.3 483.0,461.3 484.0,461.3 485.0,461.3 486.0,461.3 487.0,461.3 488.0,461.0 489.0,460.8 490.0,460.5 491.0,460.3 492.0,460.0 493.0,460.0 494.0,460.0 495.0,460.0 496.0,460.0 497.0,460.0 498.0,460.0 499.0,460.0 500.0,460.0 501.0,460.0 502.0,460.0 503.0,460.0 504.0,460.0 505.0,460.0 506.0,460.0 507.0,460.0 508.0,460.0 509.0,460.0 510.0,460.0 511.0,460.0 512.0,460.0 513.0,460.0 514.0,460.0 515.0,460.0 516.0,460.0 517.0,460.0 518.0,460.0 519.0,460.0 520.0,460.0 521.0,460.0 522.0,460.0 523.0,460.0 524.0,460.0 525.0,460.0 526.0,460.0 527.0,460.0 528.0,460.0 529.0,460.0 530.0,460.0 531.0,460.0 532.0,460.0 533.0,460.0 534.0,460.0 535.0,460.0 536.0,460.0 537.0,460.0 538.0,460.0 539.0,460.0 540.0,460.0 541.0,460.0 542.0,460.0 543.0,460.0 544.0,460.0 545.0,460.0 546.0,459.8 547.0,459.5 548.0,459.2 549.0,459.0 550.0,458.8 551.0,458.5 552.0,458.5 553.0,458.5 554.0,458.5 555.0,458.5 556.0,458.5 557.0,458.9 558.0,459.3 559.0,459.7 560.0,460.1 561.0,460.5 562.0,460.5 563.0,460.6 564.0,460.6 565.0,460.6 566.0,460.6 567.0,460.7 568.0,460.7 569.0,460.7 570.0,460.7 571.0,460.8 572.0,460.8 573.0,460.8 574.0,460.8 575.0,460.9 576.0,460.9 577.0,460.9 578.0,460.9 579.0,461.0 580.0,461.0 581.0,461.0 582.0,461.0 583.0,461.0 584.0,461.0 585.0,461.0 586.0,461.0 587.0,461.0 588.0,461.0 589.0,461.0 590.0,461.0 591.0,461.0 592.0,461.0 593.0,461.0 594.0,461.0 595.0,461.0 596.0,461.1 597.0,461.1 598.0,461.1 599.0,461.1 600.0,461.1 601.0,461.1 602.0,461.1 603.0,461.1 604.0,461.1 605.0,461.1 606.0,461.1 607.0,461.1 608.0,461.1 609.0,461.1 610.0,461.1 611.0,461.1 612.0,461.1 613.0,461.1 614.0,461.1 615.0,461.1 616.0,461.1 617.0,461.1 618.0,461.1 619.0,461.1 620.0,461.1 621.0,461.1 622.0,461.1 623.0,461.1 624.0,461.1 625.0,461.1 626.0,461.1 627.0,461.1 628.0,461.1 629.0,461.2 630.0,461.2 631.0,461.2 632.0,461.2 633.0,461.2 634.0,461.2 635.0,461.2 636.0,461.2 637.0,461.2 638.0,461.2 639.0,461.2 640.0,461.2 641.0,461.2 642.0,461.2 643.0,461.2 644.0,461.2 645.0,461.2 646.0,461.2 647.0,461.2 648.0,461.2 649.0,461.2 650.0,461.2 651.0,461.2 652.0,461.2 653.0,461.2 654.0,461.2 655.0,461.2 656.0,461.2 657.0,461.2 658.0,461.2 659.0,461.2 660.0,461.2 661.0,461.3 662.0,461.3 663.0,461.3 664.0,461.3 665.0,461.3 666.0,461.3 667.0,461.3 668.0,461.3 669.0,461.3 670.0,461.3 671.0,461.3 672.0,461.3 673.0,461.3 674.0,461.3 675.0,461.3 676.0,461.3 677.0,461.3 678.0,461.4 679.0,461.4 680.0,461.4 681.0,461.4 682.0,461.5 683.0,461.5 684.0,461.5 685.0,461.6 686.0,461.6 687.0,461.6 688.0,461.6 689.0,461.7 690.0,461.7 691.0,461.7 692.0,461.8 693.0,461.8 694.0,461.8 695.0,461.9 696.0,461.9 697.0,461.9 698.0,461.9 699.0,462.0 700.0,462.0 701.0,462.1 702.0,462.1 703.0,462.2 704.0,462.3 705.0,462.3 706.0,462.4 707.0,462.5 708.0,462.5 709.0,462.6 710.0,462.7 711.0,462.7 712.0,462.8 713.0,462.9 714.0,462.9 715.0,463.0 716.0,463.0 717.0,463.0 718.0,463.0 719.0,463.0 720.0,463.0 721.0,463.0 722.0,463.0 723.0,463.0 724.0,463.0 725.0,463.0 726.0,463.0 727.0,463.0 728.0,463.0 729.0,463.0 730.0,463.0 731.0,463.0 732.0,463.0 733.0,463.0 734.0,463.0 735.0,463.0 736.0,463.0 737.0,463.0 738.0,463.0 739.0,463.0 740.0,463.0 741.0,463.0 742.0,463.0 743.0,463.0 744.0,463.0 745.0,463.0 746.0,463.0 747.0,463.0 748.0,463.0 749.0,463.0 750.0,463.0 751.0,463.0 752.0,463.0 753.0,463.0 754.0,463.0 755.0,463.0 756.0,463.0 757.0,463.0 758.0,463.0 759.0,463.0 760.0,463.0 761.0,463.0 762.0,463.0 763.0,463.0 764.0,463.0 765.0,463.0 766.0,463.0 767.0,463.1 768.0,463.1 769.0,463.2 770.0,463.2 771.0,463.3 772.0,463.3 773.0,463.4 774.0,463.4 775.0,463.4 776.0,463.5 777.0,463.5 778.0,463.6 779.0,463.6 780.0,463.7 781.0,463.7 782.0,463.8 783.0,463.8 784.0,463.2 785.0,462.6 786.0,462.0 787.0,462.0 788.0,462.0 789.0,462.0 790.0,462.0 791.0,462.0 792.0,462.0 793.0,462.0 794.0,461.9 795.0,461.9 796.0,461.9 797.0,461.9 798.0,461.9 799.0,461.9 800.0,461.9 801.0,461.9 802.0,461.9 803.0,461.9 804.0,461.9 805.0,461.9 806.0,461.9 807.0,461.9 808.0,461.8 809.0,461.8 810.0,461.8 811.0,461.8 812.0,461.8 813.0,461.8 814.0,461.8 815.0,461.8 816.0,461.6 817.0,461.4 818.0,461.2 819.0,461.0 820.0,460.5 821.0,460.0 822.0,459.5 823.0,459.0 824.0,458.5 825.0,458.0 826.0,457.5 827.0,457.5 828.0,457.5 829.0,457.5 830.0,457.5 831.0,457.5 832.0,457.5" fill="none" stroke="#ff923c" stroke-width="4" stroke-linejoin="round" stroke-linecap="round" shape-rendering="geometricPrecision"/>
<clipPath id="mp"><rect x="4" y="6" width="923.5" height="461"/></clipPath>
<path d="M551.7 467.4L930 434.6" stroke="#ff0000" stroke-width="3.6" fill="none" shape-rendering="geometricPrecision" clip-path="url(#mp)"/>
<polyline points="5.15,514.35 7.49,519.97 12.41,511.78 15.22,516.69 19.9,519.97 22.71,519.97 24.58,517.63 27.62,509.67 29.73,507.33 32.07,510.14 34.65,511.31 36.99,510.61 39.8,513.18 41.67,512.95 44.48,498.43 46.82,510.14 49.63,513.18 52.67,517.16 56.19,517.86 58.53,511.54 61.34,517.63 63.21,514.35 66.25,521.84 68.59,523.01 71.4,534.25 74.45,524.65 76.55,521.38 78.42,519.97 80.53,509.67 83.34,512.48 85.45,515.99 88.49,514.35 90.6,514.82 93.64,523.01 95.28,526.99 97.86,522.31 100.2,521.38 102.54,523.72 105.35,530.04 107.69,535.89 110.03,531.68 112.37,538.23 114.24,543.38 117.52,530.74 119.86,537.06 122.2,539.87 124.78,531.21 127.59,526.99 129.46,519.5 132.27,523.01 134.61,529.34 136.95,536.36 139.29,533.08 142.1,524.65 144.68,524.19 147.02,523.48 149.83,528.16 152.17,523.72 154.51,517.63 156.85,505.46 159.19,515.99 162.0,523.01 165.04,530.04 168.09,539.87 170.9,535.89 173.71,531.68 176.75,545.96 179.09,540.57 181.43,537.06 183.77,531.68 185.64,531.21 188.45,539.4 189.16,554.62 190.33,577.56 193.14,579.9 195.48,569.84 197.82,572.18 200.16,580.84 202.5,581.54 204.84,562.81 207.42,548.77 210.23,559.77 212.57,544.79 215.38,549.94 217.72,547.6 220.06,562.81 222.4,567.49 224.27,570.3 226.61,556.96 229.42,552.75 232.0,549.94 234.34,547.13 237.15,554.15 239.49,545.72 242.07,553.45 244.17,545.25 246.51,535.89 248.86,536.36 251.43,532.85 254.24,542.91 256.58,543.38 258.92,541.74 261.73,537.53 264.31,541.74 266.65,555.32 268.75,535.89 271.1,542.21 273.67,537.53 276.01,534.72 278.12,534.25 279.99,518.33 281.63,505.46 283.97,511.78 287.01,514.82 288.89,517.16 290.53,519.97 293.34,512.48 295.68,517.63 298.25,512.95 300.59,521.84 303.4,535.19 305.74,535.42 308.08,534.25 310.42,530.51 312.77,526.53 315.11,526.06 317.45,527.23 320.26,517.16 322.83,505.46 324.94,505.46 327.28,485.56 329.86,484.39 332.43,481.58 334.3,493.75 336.64,492.58 339.22,494.92 342.5,504.99 344.37,503.12 346.71,490.24 349.05,489.54 351.39,504.75 353.73,503.58 356.78,495.62 359.59,494.92 361.93,504.29 364.27,508.97 367.08,512.48 369.65,515.52 371.76,511.31 373.16,510.84 375.27,520.67 377.14,535.89 378.78,549.94 380.66,553.45 383.23,566.32 386.04,549.94 388.38,553.45 390.72,551.81 393.06,537.76 395.17,536.59 397.04,539.4 399.38,547.6 401.73,560.47 403.6,566.79 405.71,563.51 408.28,563.98 411.09,564.69 413.43,566.32 415.77,570.3 417.64,574.05 419.99,572.88 422.33,562.81 425.14,556.49 427.48,568.66 430.29,569.13 432.63,523.72 435.2,533.55 437.31,536.36 439.88,530.04 442.23,528.87 444.57,531.21 446.91,537.06 449.25,556.96 452.06,534.25 454.4,537.53 457.21,540.57 459.55,543.38 461.89,544.08 464.0,556.49 466.34,571.01 469.15,575.69 471.49,545.72 474.07,545.25 476.41,554.15 479.22,547.6 481.56,537.76 483.43,544.79 486.24,538.23 488.58,519.97 491.16,532.85 493.5,528.87 496.31,533.08 498.41,531.21 500.99,523.72 503.33,524.89 505.44,524.89 508.01,506.63 510.35,476.66 513.16,504.29 515.5,503.58 517.84,506.63 520.65,515.29 522.53,513.65 525.34,510.84 527.68,519.03 530.25,514.12 532.59,513.18 534.93,509.67 537.74,530.04 540.08,526.53 542.42,521.84 544.77,523.01 547.34,526.99 549.92,523.48 552.49,518.8 554.83,534.72 557.17,537.53 559.51,529.57 562.32,529.57 564.66,559.77 567.47,564.45 569.82,556.96 571.69,557.66 574.5,549.94 576.84,546.89 579.18,543.62 581.75,551.81 584.56,558.13 586.9,551.11 589.25,545.25 591.59,535.89 593.46,536.36 596.27,545.96 598.61,542.91 600.95,544.79 603.53,521.84 606.1,529.57 608.44,538.23 610.32,537.06 613.36,524.65 615.7,543.38 618.04,542.21 620.38,545.96 622.72,546.42 625.06,550.4 628.34,555.32 630.68,549.47 632.56,549.23 635.36,552.28 637.71,501.95 640.75,513.65 642.62,512.48 645.43,517.16 647.77,530.04 650.58,542.91 652.45,540.57 654.33,538.93 657.6,525.82 659.95,528.4 662.29,531.91 664.63,532.38 667.2,532.38 669.54,537.06 672.35,524.89 674.23,527.7 676.57,522.55 679.38,519.97 681.72,516.46 684.53,510.61 687.1,511.78 689.91,512.01 692.25,511.31 694.59,513.18 696.0,537.06 698.34,531.68 701.15,536.59 703.49,542.91 706.07,538.93 708.41,549.94 710.75,552.75 713.09,553.45 715.9,542.91 718.24,530.04 720.58,538.93 723.39,535.19 725.26,537.06 728.07,523.01 730.65,511.31 732.99,521.84 735.33,530.74 738.14,533.08 740.48,530.74 742.82,523.01 745.16,520.67 747.97,521.14 750.31,528.87 752.19,526.53 754.53,535.42 757.34,541.04 759.91,541.74 762.25,544.08 764.59,543.62 767.4,525.82 769.74,535.89 772.08,541.74 773.96,539.4 776.77,543.62 779.11,544.55 782.15,565.15 784.49,557.66 786.83,561.17 789.17,551.11 791.51,526.53 793.86,521.84 796.2,523.01 799.47,505.92 801.82,517.86 804.39,531.68 806.5,532.38 808.37,532.38 811.18,542.91 813.75,552.75 816.56,575.22 818.44,557.43 820.08,578.03 821.95,601.44 823.82,617.83 825.93,611.97 828.27,609.16 830.61,603.31" fill="none" stroke="#a612a6" stroke-width="1.2" stroke-linejoin="round" shape-rendering="geometricPrecision"/>
<rect x="3.5" y="5.5" width="982" height="648" fill="none" stroke="#555555" stroke-width="1"/>
<path d="M928.5 5.5V628.5M3.5 467.5H985.5M3.5 628.5H928.5" stroke="#555555" stroke-width="1" fill="none"/>
<path d="M929 19.5H932M929 48.5H932M929 78.5H932M929 107.5H932M929 136.5H932M929 166.5H932M929 195.5H932M929 224.5H932M929 254.5H932M929 283.5H932M929 312.5H932M929 342.5H932M929 371.5H932M929 400.5H932M929 430.5H932M929 459.5H932M929 510.5H932M929 554.5H932M929 598.5H932M30.5 629V632M147.5 629V632M265.5 629V632M382.5 629V632M499.5 629V632M616.5 629V632M704.5 629V632M795.5 629V632M883.5 629V632" stroke="#555555" stroke-width="1" fill="none"/>
<g font-family="Liberation Sans, Arial, sans-serif" font-size="11" fill="#555555" shape-rendering="auto">
<text x="934.8" y="23.5">6500.00</text>
<text x="934.8" y="52.5">6480.00</text>
<text x="934.8" y="82.5">6460.00</text>
<text x="934.8" y="111.5">6440.00</text>
<text x="934.8" y="140.5">6420.00</text>
<text x="934.8" y="170.5">6400.00</text>
<text x="934.8" y="199.5">6380.00</text>
<text x="934.8" y="228.5">6360.00</text>
<text x="934.8" y="258.5">6340.00</text>
<text x="934.8" y="287.5">6320.00</text>
<text x="934.8" y="316.5">6300.00</text>
<text x="934.8" y="346.5">6280.00</text>
<text x="934.8" y="375.5">6260.00</text>
<text x="934.8" y="404.5">6240.00</text>
<text x="934.8" y="434.5">6220.00</text>
<text x="934.8" y="463.5">6200.00</text>
<text x="934.8" y="514.5">60.0000</text>
<text x="934.8" y="558.5">40.0000</text>
<text x="934.8" y="602.5">20.0000</text>
<text x="30.5" y="646" text-anchor="middle">16</text>
<text x="147.5" y="646" text-anchor="middle">18</text>
<text x="265.5" y="646" text-anchor="middle">20</text>
<text x="382.5" y="646" text-anchor="middle" font-weight="bold">22</text>
<text x="499.5" y="646" text-anchor="middle">24</text>
<text x="616.5" y="646" text-anchor="middle">26</text>
<text x="704.5" y="646" text-anchor="middle">12:00</text>
<text x="795.5" y="646" text-anchor="middle" font-weight="bold">29</text>
<text x="883.5" y="646" text-anchor="middle">12:00</text>
</g>
<rect x="928" y="345" width="39" height="17" fill="#00be86"/><rect x="928" y="353" width="3" height="1" fill="#fff"/>
<text x="935" y="356.6" font-family="Liberation Sans, Arial, sans-serif" font-size="11" fill="#fff" textLength="27.5" lengthAdjust="spacingAndGlyphs">47:24</text>
<rect x="865" y="449" width="62" height="17" fill="#ff9137"/>
<rect x="883" y="466" width="44" height="1" fill="#00be86"/>
<text x="869.5" y="461.3" font-family="Liberation Sans, Arial, sans-serif" font-size="11" fill="#000" textLength="54" lengthAdjust="spacingAndGlyphs">Volume MA</text>
<rect x="905" y="595" width="22" height="17" fill="#a800a8"/>
<text x="909" y="606.4" font-family="Liberation Sans, Arial, sans-serif" font-size="11" fill="#fff" textLength="15" lengthAdjust="spacingAndGlyphs">RSI</text>
<text x="12.4" y="26.7" font-family="Liberation Sans, Arial, sans-serif" font-size="12.3" font-weight="bold" fill="#444" textLength="138.5" lengthAdjust="spacingAndGlyphs">BTC/USD, 60, COINBASE</text>
<text x="12.2" y="43.4" font-family="Liberation Sans, Arial, sans-serif" font-size="12" fill="#555" textLength="17.5" lengthAdjust="spacingAndGlyphs">Vol</text>
<text x="12.2" y="488.6" font-family="Liberation Sans, Arial, sans-serif" font-size="12" fill="#555" textLength="17.5" lengthAdjust="spacingAndGlyphs">RSI</text>
<rect x="94" y="663" width="4" height="1" fill="#dce9f1"/>
</svg>
</body></html>
